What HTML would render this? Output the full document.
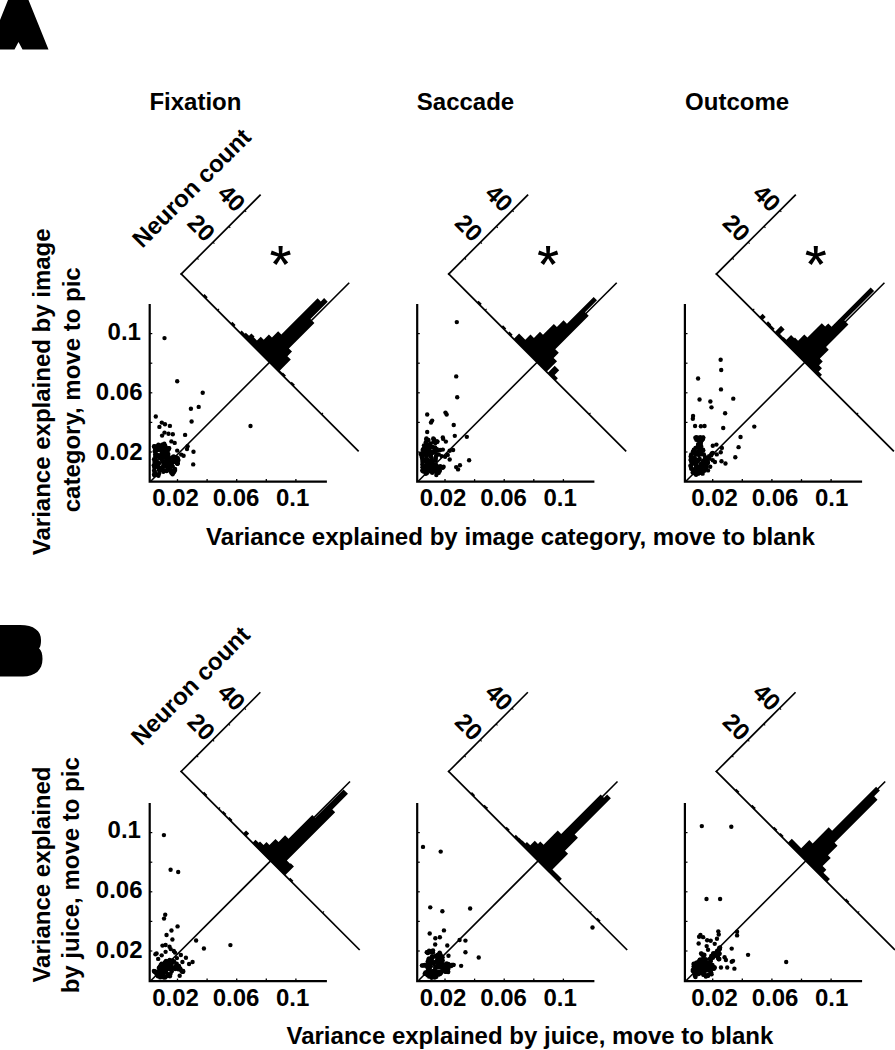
<!DOCTYPE html>
<html><head><meta charset="utf-8"><style>
html,body{margin:0;padding:0;background:#fff;width:895px;height:1050px;overflow:hidden}
svg{display:block}
text{font-family:"Liberation Sans",sans-serif;font-weight:bold;fill:#000}
</style></head><body>
<svg width="895" height="1050" viewBox="0 0 895 1050">
<polygon points="8,0 28.5,0 48.5,49.5 22.5,49.5 18.5,42 14.5,49.5 0,49.5 0,20" fill="#000"/>
<path d="M0,625 L20,625 C34,625 41,631 41,640 C41,645.5 40,647.5 39,648.3 C41.5,650.5 42.5,654 42.5,659 C42.5,670 35,676.5 23,676.5 L0,676.5 Z" fill="#000"/>
<text x="149.40" y="110.20" font-size="24" text-anchor="start" >Fixation</text>
<text x="416.80" y="110.20" font-size="24" text-anchor="start" >Saccade</text>
<text x="685.10" y="110.20" font-size="24" text-anchor="start" >Outcome</text>
<text x="206.00" y="545.00" font-size="24.1" text-anchor="start" >Variance explained by image category, move to blank</text>
<text x="286.50" y="1043.50" font-size="24" text-anchor="start" >Variance explained by juice, move to blank</text>
<text x="50.30" y="555.20" font-size="24" text-anchor="start" transform="rotate(-90 50.3 555.2)" >Variance explained by image</text>
<text x="79.80" y="512.30" font-size="24" text-anchor="start" transform="rotate(-90 79.8 512.3)" >category, move to pic</text>
<text x="50.00" y="982.60" font-size="24" text-anchor="start" transform="rotate(-90 50.0 982.6)" >Variance explained</text>
<text x="79.30" y="993.30" font-size="24" text-anchor="start" transform="rotate(-90 79.3 993.3)" >by juice, move to pic</text>
<path d="M149.70,304.10 L149.70,481.70 L326.90,481.70" fill="none" stroke="#000" stroke-width="2.2"/>
<line x1="177.50" y1="481.70" x2="177.50" y2="479.10" stroke="#000" stroke-width="1.3"/>
<line x1="149.90" y1="452.00" x2="152.30" y2="452.00" stroke="#000" stroke-width="1.2"/>
<line x1="207.10" y1="481.70" x2="207.10" y2="479.10" stroke="#000" stroke-width="1.3"/>
<line x1="149.90" y1="422.40" x2="152.30" y2="422.40" stroke="#000" stroke-width="1.2"/>
<line x1="236.70" y1="481.70" x2="236.70" y2="479.10" stroke="#000" stroke-width="1.3"/>
<line x1="149.90" y1="392.80" x2="152.30" y2="392.80" stroke="#000" stroke-width="1.2"/>
<line x1="266.30" y1="481.70" x2="266.30" y2="479.10" stroke="#000" stroke-width="1.3"/>
<line x1="149.90" y1="363.20" x2="152.30" y2="363.20" stroke="#000" stroke-width="1.2"/>
<line x1="295.90" y1="481.70" x2="295.90" y2="479.10" stroke="#000" stroke-width="1.3"/>
<line x1="149.90" y1="333.60" x2="152.30" y2="333.60" stroke="#000" stroke-width="1.2"/>
<text x="175.50" y="506.00" font-size="24" text-anchor="middle" >0.02</text>
<text x="236.00" y="506.00" font-size="24" text-anchor="middle" >0.06</text>
<text x="292.60" y="506.00" font-size="24" text-anchor="middle" >0.1</text>
<text x="124.25" y="340.00" font-size="24" text-anchor="middle" >0.1</text>
<text x="119.20" y="399.90" font-size="24" text-anchor="middle" >0.06</text>
<text x="119.20" y="459.90" font-size="24" text-anchor="middle" >0.02</text>
<circle cx="163.86" cy="451.50" r="2.2" fill="#000"/>
<circle cx="166.42" cy="456.59" r="2.2" fill="#000"/>
<circle cx="165.44" cy="462.81" r="2.2" fill="#000"/>
<circle cx="177.59" cy="460.06" r="2.2" fill="#000"/>
<circle cx="159.96" cy="468.82" r="2.2" fill="#000"/>
<circle cx="160.75" cy="467.91" r="2.2" fill="#000"/>
<circle cx="165.32" cy="445.98" r="2.2" fill="#000"/>
<circle cx="164.25" cy="463.76" r="2.2" fill="#000"/>
<circle cx="159.36" cy="470.53" r="2.2" fill="#000"/>
<circle cx="157.40" cy="462.25" r="2.2" fill="#000"/>
<circle cx="174.64" cy="458.09" r="2.2" fill="#000"/>
<circle cx="155.09" cy="461.69" r="2.2" fill="#000"/>
<circle cx="171.92" cy="461.55" r="2.2" fill="#000"/>
<circle cx="174.95" cy="461.30" r="2.2" fill="#000"/>
<circle cx="168.57" cy="457.98" r="2.2" fill="#000"/>
<circle cx="157.35" cy="448.98" r="2.2" fill="#000"/>
<circle cx="169.28" cy="465.36" r="2.2" fill="#000"/>
<circle cx="167.24" cy="456.11" r="2.2" fill="#000"/>
<circle cx="177.22" cy="463.03" r="2.2" fill="#000"/>
<circle cx="164.71" cy="465.49" r="2.2" fill="#000"/>
<circle cx="169.28" cy="459.43" r="2.2" fill="#000"/>
<circle cx="158.87" cy="467.97" r="2.2" fill="#000"/>
<circle cx="155.32" cy="450.15" r="2.2" fill="#000"/>
<circle cx="156.14" cy="466.79" r="2.2" fill="#000"/>
<circle cx="177.65" cy="461.09" r="2.2" fill="#000"/>
<circle cx="169.90" cy="463.61" r="2.2" fill="#000"/>
<circle cx="168.24" cy="456.11" r="2.2" fill="#000"/>
<circle cx="155.51" cy="449.81" r="2.2" fill="#000"/>
<circle cx="154.88" cy="451.53" r="2.2" fill="#000"/>
<circle cx="158.24" cy="465.02" r="2.2" fill="#000"/>
<circle cx="161.89" cy="448.76" r="2.2" fill="#000"/>
<circle cx="157.64" cy="454.97" r="2.2" fill="#000"/>
<circle cx="172.62" cy="471.69" r="2.2" fill="#000"/>
<circle cx="159.08" cy="463.27" r="2.2" fill="#000"/>
<circle cx="164.48" cy="448.56" r="2.2" fill="#000"/>
<circle cx="165.30" cy="456.76" r="2.2" fill="#000"/>
<circle cx="168.05" cy="460.20" r="2.2" fill="#000"/>
<circle cx="160.79" cy="454.92" r="2.2" fill="#000"/>
<circle cx="161.94" cy="452.50" r="2.2" fill="#000"/>
<circle cx="169.87" cy="464.12" r="2.2" fill="#000"/>
<circle cx="163.69" cy="465.16" r="2.2" fill="#000"/>
<circle cx="161.44" cy="450.82" r="2.2" fill="#000"/>
<circle cx="176.67" cy="462.28" r="2.2" fill="#000"/>
<circle cx="163.69" cy="456.49" r="2.2" fill="#000"/>
<circle cx="164.56" cy="451.51" r="2.2" fill="#000"/>
<circle cx="156.46" cy="460.86" r="2.2" fill="#000"/>
<circle cx="165.74" cy="462.04" r="2.2" fill="#000"/>
<circle cx="165.95" cy="453.35" r="2.2" fill="#000"/>
<circle cx="165.17" cy="470.67" r="2.2" fill="#000"/>
<circle cx="163.34" cy="466.12" r="2.2" fill="#000"/>
<circle cx="160.92" cy="449.91" r="2.2" fill="#000"/>
<circle cx="175.19" cy="460.89" r="2.2" fill="#000"/>
<circle cx="154.84" cy="472.24" r="2.2" fill="#000"/>
<circle cx="163.19" cy="445.31" r="2.2" fill="#000"/>
<circle cx="159.76" cy="458.26" r="2.2" fill="#000"/>
<circle cx="155.78" cy="460.63" r="2.2" fill="#000"/>
<circle cx="171.20" cy="461.93" r="2.2" fill="#000"/>
<circle cx="170.47" cy="467.30" r="2.2" fill="#000"/>
<circle cx="162.51" cy="461.22" r="2.2" fill="#000"/>
<circle cx="157.87" cy="462.94" r="2.2" fill="#000"/>
<circle cx="161.41" cy="470.00" r="2.2" fill="#000"/>
<circle cx="160.17" cy="456.23" r="2.2" fill="#000"/>
<circle cx="167.47" cy="452.70" r="2.2" fill="#000"/>
<circle cx="165.48" cy="450.83" r="2.2" fill="#000"/>
<circle cx="163.37" cy="453.92" r="2.2" fill="#000"/>
<circle cx="163.70" cy="445.93" r="2.2" fill="#000"/>
<circle cx="177.61" cy="458.99" r="2.2" fill="#000"/>
<circle cx="161.70" cy="459.17" r="2.2" fill="#000"/>
<circle cx="160.52" cy="468.08" r="2.2" fill="#000"/>
<circle cx="166.64" cy="458.11" r="2.2" fill="#000"/>
<circle cx="165.78" cy="462.86" r="2.2" fill="#000"/>
<circle cx="159.37" cy="469.56" r="2.2" fill="#000"/>
<circle cx="164.16" cy="454.97" r="2.2" fill="#000"/>
<circle cx="164.74" cy="466.07" r="2.2" fill="#000"/>
<circle cx="155.37" cy="456.34" r="2.2" fill="#000"/>
<circle cx="156.14" cy="449.37" r="2.2" fill="#000"/>
<circle cx="162.67" cy="461.52" r="2.2" fill="#000"/>
<circle cx="163.45" cy="466.17" r="2.2" fill="#000"/>
<circle cx="176.73" cy="459.74" r="2.2" fill="#000"/>
<circle cx="166.06" cy="459.85" r="2.2" fill="#000"/>
<circle cx="159.26" cy="469.81" r="2.2" fill="#000"/>
<circle cx="172.24" cy="470.60" r="2.2" fill="#000"/>
<circle cx="161.33" cy="448.07" r="2.2" fill="#000"/>
<circle cx="156.21" cy="465.34" r="2.2" fill="#000"/>
<circle cx="177.39" cy="459.98" r="2.2" fill="#000"/>
<circle cx="168.18" cy="466.12" r="2.2" fill="#000"/>
<circle cx="167.10" cy="463.34" r="2.2" fill="#000"/>
<circle cx="175.27" cy="459.28" r="2.2" fill="#000"/>
<circle cx="166.29" cy="451.34" r="2.2" fill="#000"/>
<circle cx="163.51" cy="470.71" r="2.2" fill="#000"/>
<circle cx="155.61" cy="452.48" r="2.2" fill="#000"/>
<circle cx="172.22" cy="465.95" r="2.2" fill="#000"/>
<circle cx="163.60" cy="463.80" r="2.2" fill="#000"/>
<circle cx="165.28" cy="447.75" r="2.2" fill="#000"/>
<circle cx="167.48" cy="454.55" r="2.2" fill="#000"/>
<circle cx="162.82" cy="469.54" r="2.2" fill="#000"/>
<circle cx="169.20" cy="458.76" r="2.2" fill="#000"/>
<circle cx="155.52" cy="466.26" r="2.2" fill="#000"/>
<circle cx="169.54" cy="469.96" r="2.2" fill="#000"/>
<circle cx="155.60" cy="474.25" r="2.2" fill="#000"/>
<circle cx="174.84" cy="460.56" r="2.2" fill="#000"/>
<circle cx="174.04" cy="457.97" r="2.2" fill="#000"/>
<circle cx="173.33" cy="458.35" r="2.2" fill="#000"/>
<circle cx="168.12" cy="450.00" r="2.2" fill="#000"/>
<circle cx="154.65" cy="471.03" r="2.2" fill="#000"/>
<circle cx="160.62" cy="446.42" r="2.2" fill="#000"/>
<circle cx="164.02" cy="462.20" r="2.2" fill="#000"/>
<circle cx="163.73" cy="445.93" r="2.2" fill="#000"/>
<circle cx="157.79" cy="465.96" r="2.2" fill="#000"/>
<circle cx="155.19" cy="454.48" r="2.2" fill="#000"/>
<circle cx="165.35" cy="452.67" r="2.2" fill="#000"/>
<circle cx="158.86" cy="468.78" r="2.2" fill="#000"/>
<circle cx="160.22" cy="457.10" r="2.2" fill="#000"/>
<circle cx="167.53" cy="468.30" r="2.2" fill="#000"/>
<circle cx="156.03" cy="457.19" r="2.2" fill="#000"/>
<circle cx="164.55" cy="455.34" r="2.2" fill="#000"/>
<circle cx="163.53" cy="457.01" r="2.2" fill="#000"/>
<circle cx="154.55" cy="446.56" r="2.2" fill="#000"/>
<circle cx="156.17" cy="446.39" r="2.2" fill="#000"/>
<circle cx="158.10" cy="445.73" r="2.2" fill="#000"/>
<circle cx="162.03" cy="444.77" r="2.2" fill="#000"/>
<circle cx="164.07" cy="444.49" r="2.2" fill="#000"/>
<circle cx="164.84" cy="445.44" r="2.2" fill="#000"/>
<circle cx="168.02" cy="448.10" r="2.2" fill="#000"/>
<circle cx="168.82" cy="448.35" r="2.2" fill="#000"/>
<circle cx="168.98" cy="448.73" r="2.2" fill="#000"/>
<circle cx="168.28" cy="454.11" r="2.2" fill="#000"/>
<circle cx="172.00" cy="457.37" r="2.2" fill="#000"/>
<circle cx="174.51" cy="457.06" r="2.2" fill="#000"/>
<circle cx="176.72" cy="457.51" r="2.2" fill="#000"/>
<circle cx="178.42" cy="460.12" r="2.2" fill="#000"/>
<circle cx="177.68" cy="463.23" r="2.2" fill="#000"/>
<circle cx="177.15" cy="463.33" r="2.2" fill="#000"/>
<circle cx="177.46" cy="463.60" r="2.2" fill="#000"/>
<circle cx="173.18" cy="462.16" r="2.2" fill="#000"/>
<circle cx="172.62" cy="466.44" r="2.2" fill="#000"/>
<circle cx="175.03" cy="469.07" r="2.2" fill="#000"/>
<circle cx="174.81" cy="470.33" r="2.2" fill="#000"/>
<circle cx="173.94" cy="472.34" r="2.2" fill="#000"/>
<circle cx="172.38" cy="473.40" r="2.2" fill="#000"/>
<circle cx="171.12" cy="472.62" r="2.2" fill="#000"/>
<circle cx="166.73" cy="470.98" r="2.2" fill="#000"/>
<circle cx="163.36" cy="471.74" r="2.2" fill="#000"/>
<circle cx="159.10" cy="473.43" r="2.2" fill="#000"/>
<circle cx="156.33" cy="474.85" r="2.2" fill="#000"/>
<circle cx="154.40" cy="475.18" r="2.2" fill="#000"/>
<circle cx="154.06" cy="474.38" r="2.2" fill="#000"/>
<circle cx="154.10" cy="470.46" r="2.2" fill="#000"/>
<circle cx="154.28" cy="467.50" r="2.2" fill="#000"/>
<circle cx="153.77" cy="465.20" r="2.2" fill="#000"/>
<circle cx="154.46" cy="462.06" r="2.2" fill="#000"/>
<circle cx="154.04" cy="459.21" r="2.2" fill="#000"/>
<circle cx="154.91" cy="450.45" r="2.2" fill="#000"/>
<circle cx="154.45" cy="447.23" r="2.2" fill="#000"/>
<circle cx="164.50" cy="338.10" r="2.2" fill="#000"/>
<circle cx="177.20" cy="381.30" r="2.2" fill="#000"/>
<circle cx="202.70" cy="392.80" r="2.2" fill="#000"/>
<circle cx="190.90" cy="408.80" r="2.2" fill="#000"/>
<circle cx="198.70" cy="406.90" r="2.2" fill="#000"/>
<circle cx="155.80" cy="416.50" r="2.2" fill="#000"/>
<circle cx="191.60" cy="421.50" r="2.2" fill="#000"/>
<circle cx="250.50" cy="426.00" r="2.2" fill="#000"/>
<circle cx="161.80" cy="422.60" r="2.2" fill="#000"/>
<circle cx="165.00" cy="424.30" r="2.2" fill="#000"/>
<circle cx="169.90" cy="425.90" r="2.2" fill="#000"/>
<circle cx="159.40" cy="426.90" r="2.2" fill="#000"/>
<circle cx="164.50" cy="432.60" r="2.2" fill="#000"/>
<circle cx="168.50" cy="433.70" r="2.2" fill="#000"/>
<circle cx="172.80" cy="434.20" r="2.2" fill="#000"/>
<circle cx="162.10" cy="435.60" r="2.2" fill="#000"/>
<circle cx="185.10" cy="434.90" r="2.2" fill="#000"/>
<circle cx="171.40" cy="441.40" r="2.2" fill="#000"/>
<circle cx="174.70" cy="442.90" r="2.2" fill="#000"/>
<circle cx="154.10" cy="446.30" r="2.2" fill="#000"/>
<circle cx="158.40" cy="444.80" r="2.2" fill="#000"/>
<circle cx="164.30" cy="443.80" r="2.2" fill="#000"/>
<circle cx="169.20" cy="448.10" r="2.2" fill="#000"/>
<circle cx="158.10" cy="450.00" r="2.2" fill="#000"/>
<circle cx="177.20" cy="450.60" r="2.2" fill="#000"/>
<circle cx="187.60" cy="446.30" r="2.2" fill="#000"/>
<circle cx="187.00" cy="449.10" r="2.2" fill="#000"/>
<circle cx="193.50" cy="451.80" r="2.2" fill="#000"/>
<circle cx="183.60" cy="455.80" r="2.2" fill="#000"/>
<circle cx="181.20" cy="454.60" r="2.2" fill="#000"/>
<circle cx="177.80" cy="458.30" r="2.2" fill="#000"/>
<circle cx="173.50" cy="456.40" r="2.2" fill="#000"/>
<circle cx="177.50" cy="463.80" r="2.2" fill="#000"/>
<circle cx="193.20" cy="464.40" r="2.2" fill="#000"/>
<circle cx="175.00" cy="470.00" r="2.2" fill="#000"/>
<circle cx="172.60" cy="474.30" r="2.2" fill="#000"/>
<circle cx="158.40" cy="475.80" r="2.2" fill="#000"/>
<g transform="translate(269.60 362.35) rotate(45)">
<path d="M-125.80,-0.00 L126,-0.00" stroke="#000" stroke-width="1.7" fill="none"/>
<path d="M-125.00,0.80 L-125.00,-112.3" stroke="#000" stroke-width="1.7" fill="none"/>
<path d="M-125.00,-22.45 L-123.00,-22.45" stroke="#000" stroke-width="1.1"/>
<path d="M-125.00,-44.90 L-123.00,-44.90" stroke="#000" stroke-width="1.1"/>
<path d="M-125.00,-67.35 L-123.00,-67.35" stroke="#000" stroke-width="1.1"/>
<path d="M-125.00,-89.80 L-123.00,-89.80" stroke="#000" stroke-width="1.1"/>
<path d="M-73.50,-0.00 L-73.50,-2.00" stroke="#000" stroke-width="1.1"/>
<path d="M73.50,-0.00 L73.50,-2.00" stroke="#000" stroke-width="1.1"/>
<path d="M-94.30,0 L-94.30,-2.30 L-89.80,-2.30 L-89.80,0 Z M-55.00,0 L-55.00,-2.40 L-50.50,-2.40 L-50.50,0 Z M-42.25,0 L-42.25,-2.75 L-37.80,-2.75 L-37.80,-4.20 L-33.30,-4.20 L-33.30,-7.60 L-28.90,-7.60 L-28.90,-6.50 L-24.40,-6.50 L-24.40,-11.90 L-20.20,-11.90 L-20.20,-19.20 L-15.90,-19.20 L-15.90,-28.00 L-11.40,-28.00 L-11.40,-79.30 L-6.90,-79.30 L-6.90,-84.00 L-1.80,-84.00 L-1.80,-59.60 L3.80,-59.60 L3.80,-23.50 L8.20,-23.50 L8.20,-17.00 L13.00,-17.00 L13.00,-1.60 L16.60,-1.60 L16.60,-2.20 L20.90,-2.20 L20.90,0 Z M29.30,0 L29.30,-2.00 L33.80,-2.00 L33.80,0 Z " fill="#000"/>
<path d="M0,168.5 L0,-112.6" stroke="#000" stroke-width="1.6" fill="none"/>
</g>
<text x="0" y="0" font-size="24" text-anchor="middle" dominant-baseline="central" transform="translate(201.42 227.69) rotate(45)">20</text>
<text x="0" y="0" font-size="24" text-anchor="middle" dominant-baseline="central" transform="translate(231.75 198.06) rotate(45)">40</text>
<text x="0" y="0" font-size="24" text-anchor="middle" dominant-baseline="central" transform="translate(191.31 187.74) rotate(-45)">Neuron count</text>
<path d="M282.10,255.60 L282.70,246.00 L278.50,246.00 L279.10,255.60 Z M281.06,257.03 L290.76,254.51 L289.46,250.51 L280.14,254.17 Z M281.06,254.17 L271.74,250.51 L270.44,254.51 L280.14,257.03 Z M279.39,256.48 L284.78,264.92 L288.18,262.46 L281.81,254.72 Z M279.39,254.72 L273.02,262.46 L276.42,264.92 L281.81,256.48 Z " fill="#000"/>
<circle cx="280.60" cy="255.60" r="2.3" fill="#000"/>
<path d="M417.20,304.10 L417.20,481.70 L594.40,481.70" fill="none" stroke="#000" stroke-width="2.2"/>
<line x1="445.00" y1="481.70" x2="445.00" y2="479.10" stroke="#000" stroke-width="1.3"/>
<line x1="417.40" y1="452.00" x2="419.80" y2="452.00" stroke="#000" stroke-width="1.2"/>
<line x1="474.60" y1="481.70" x2="474.60" y2="479.10" stroke="#000" stroke-width="1.3"/>
<line x1="417.40" y1="422.40" x2="419.80" y2="422.40" stroke="#000" stroke-width="1.2"/>
<line x1="504.20" y1="481.70" x2="504.20" y2="479.10" stroke="#000" stroke-width="1.3"/>
<line x1="417.40" y1="392.80" x2="419.80" y2="392.80" stroke="#000" stroke-width="1.2"/>
<line x1="533.80" y1="481.70" x2="533.80" y2="479.10" stroke="#000" stroke-width="1.3"/>
<line x1="417.40" y1="363.20" x2="419.80" y2="363.20" stroke="#000" stroke-width="1.2"/>
<line x1="563.40" y1="481.70" x2="563.40" y2="479.10" stroke="#000" stroke-width="1.3"/>
<line x1="417.40" y1="333.60" x2="419.80" y2="333.60" stroke="#000" stroke-width="1.2"/>
<text x="443.00" y="506.00" font-size="24" text-anchor="middle" >0.02</text>
<text x="503.50" y="506.00" font-size="24" text-anchor="middle" >0.06</text>
<text x="560.10" y="506.00" font-size="24" text-anchor="middle" >0.1</text>
<circle cx="426.07" cy="459.07" r="2.2" fill="#000"/>
<circle cx="429.43" cy="461.46" r="2.2" fill="#000"/>
<circle cx="426.61" cy="446.67" r="2.2" fill="#000"/>
<circle cx="436.19" cy="472.02" r="2.2" fill="#000"/>
<circle cx="433.34" cy="466.95" r="2.2" fill="#000"/>
<circle cx="438.33" cy="472.45" r="2.2" fill="#000"/>
<circle cx="430.07" cy="469.34" r="2.2" fill="#000"/>
<circle cx="435.98" cy="449.34" r="2.2" fill="#000"/>
<circle cx="432.93" cy="452.73" r="2.2" fill="#000"/>
<circle cx="428.95" cy="460.70" r="2.2" fill="#000"/>
<circle cx="427.27" cy="439.84" r="2.2" fill="#000"/>
<circle cx="430.47" cy="443.33" r="2.2" fill="#000"/>
<circle cx="427.49" cy="468.05" r="2.2" fill="#000"/>
<circle cx="427.90" cy="440.38" r="2.2" fill="#000"/>
<circle cx="425.03" cy="453.62" r="2.2" fill="#000"/>
<circle cx="431.74" cy="458.10" r="2.2" fill="#000"/>
<circle cx="431.00" cy="466.11" r="2.2" fill="#000"/>
<circle cx="426.06" cy="449.34" r="2.2" fill="#000"/>
<circle cx="430.59" cy="460.50" r="2.2" fill="#000"/>
<circle cx="436.00" cy="455.95" r="2.2" fill="#000"/>
<circle cx="438.03" cy="466.82" r="2.2" fill="#000"/>
<circle cx="426.40" cy="455.55" r="2.2" fill="#000"/>
<circle cx="435.11" cy="450.10" r="2.2" fill="#000"/>
<circle cx="429.28" cy="449.81" r="2.2" fill="#000"/>
<circle cx="429.41" cy="461.12" r="2.2" fill="#000"/>
<circle cx="427.66" cy="452.39" r="2.2" fill="#000"/>
<circle cx="434.52" cy="466.71" r="2.2" fill="#000"/>
<circle cx="427.91" cy="446.20" r="2.2" fill="#000"/>
<circle cx="424.78" cy="454.71" r="2.2" fill="#000"/>
<circle cx="428.21" cy="450.65" r="2.2" fill="#000"/>
<circle cx="428.59" cy="463.31" r="2.2" fill="#000"/>
<circle cx="425.74" cy="442.14" r="2.2" fill="#000"/>
<circle cx="424.68" cy="448.44" r="2.2" fill="#000"/>
<circle cx="423.31" cy="448.98" r="2.2" fill="#000"/>
<circle cx="428.83" cy="453.98" r="2.2" fill="#000"/>
<circle cx="430.70" cy="453.68" r="2.2" fill="#000"/>
<circle cx="439.01" cy="470.77" r="2.2" fill="#000"/>
<circle cx="427.37" cy="450.94" r="2.2" fill="#000"/>
<circle cx="435.01" cy="448.78" r="2.2" fill="#000"/>
<circle cx="424.38" cy="449.30" r="2.2" fill="#000"/>
<circle cx="435.61" cy="450.95" r="2.2" fill="#000"/>
<circle cx="426.44" cy="471.77" r="2.2" fill="#000"/>
<circle cx="432.17" cy="468.59" r="2.2" fill="#000"/>
<circle cx="428.97" cy="445.19" r="2.2" fill="#000"/>
<circle cx="433.63" cy="469.97" r="2.2" fill="#000"/>
<circle cx="424.37" cy="468.97" r="2.2" fill="#000"/>
<circle cx="436.03" cy="471.80" r="2.2" fill="#000"/>
<circle cx="426.85" cy="458.39" r="2.2" fill="#000"/>
<circle cx="430.79" cy="456.22" r="2.2" fill="#000"/>
<circle cx="422.20" cy="457.38" r="2.2" fill="#000"/>
<circle cx="428.06" cy="449.88" r="2.2" fill="#000"/>
<circle cx="428.96" cy="463.18" r="2.2" fill="#000"/>
<circle cx="434.96" cy="451.73" r="2.2" fill="#000"/>
<circle cx="424.87" cy="450.45" r="2.2" fill="#000"/>
<circle cx="423.16" cy="459.52" r="2.2" fill="#000"/>
<circle cx="429.52" cy="461.48" r="2.2" fill="#000"/>
<circle cx="431.01" cy="452.20" r="2.2" fill="#000"/>
<circle cx="432.65" cy="465.42" r="2.2" fill="#000"/>
<circle cx="430.72" cy="465.06" r="2.2" fill="#000"/>
<circle cx="431.75" cy="447.10" r="2.2" fill="#000"/>
<circle cx="433.66" cy="465.11" r="2.2" fill="#000"/>
<circle cx="426.69" cy="455.87" r="2.2" fill="#000"/>
<circle cx="423.14" cy="469.83" r="2.2" fill="#000"/>
<circle cx="436.89" cy="472.79" r="2.2" fill="#000"/>
<circle cx="422.63" cy="460.81" r="2.2" fill="#000"/>
<circle cx="423.09" cy="471.06" r="2.2" fill="#000"/>
<circle cx="437.18" cy="470.75" r="2.2" fill="#000"/>
<circle cx="434.38" cy="470.42" r="2.2" fill="#000"/>
<circle cx="426.17" cy="444.49" r="2.2" fill="#000"/>
<circle cx="426.37" cy="461.94" r="2.2" fill="#000"/>
<circle cx="429.37" cy="453.17" r="2.2" fill="#000"/>
<circle cx="428.93" cy="454.03" r="2.2" fill="#000"/>
<circle cx="422.12" cy="457.31" r="2.2" fill="#000"/>
<circle cx="437.62" cy="467.54" r="2.2" fill="#000"/>
<circle cx="432.33" cy="463.02" r="2.2" fill="#000"/>
<circle cx="422.44" cy="467.23" r="2.2" fill="#000"/>
<circle cx="431.30" cy="466.06" r="2.2" fill="#000"/>
<circle cx="424.75" cy="447.99" r="2.2" fill="#000"/>
<circle cx="425.08" cy="460.72" r="2.2" fill="#000"/>
<circle cx="428.03" cy="446.59" r="2.2" fill="#000"/>
<circle cx="427.54" cy="465.51" r="2.2" fill="#000"/>
<circle cx="430.54" cy="471.45" r="2.2" fill="#000"/>
<circle cx="434.91" cy="447.99" r="2.2" fill="#000"/>
<circle cx="432.23" cy="452.61" r="2.2" fill="#000"/>
<circle cx="424.39" cy="451.72" r="2.2" fill="#000"/>
<circle cx="428.21" cy="468.27" r="2.2" fill="#000"/>
<circle cx="432.23" cy="461.26" r="2.2" fill="#000"/>
<circle cx="431.94" cy="470.68" r="2.2" fill="#000"/>
<circle cx="432.27" cy="466.13" r="2.2" fill="#000"/>
<circle cx="431.92" cy="446.48" r="2.2" fill="#000"/>
<circle cx="425.99" cy="466.01" r="2.2" fill="#000"/>
<circle cx="424.84" cy="447.64" r="2.2" fill="#000"/>
<circle cx="424.77" cy="465.49" r="2.2" fill="#000"/>
<circle cx="426.50" cy="471.90" r="2.2" fill="#000"/>
<circle cx="427.99" cy="454.23" r="2.2" fill="#000"/>
<circle cx="422.36" cy="470.66" r="2.2" fill="#000"/>
<circle cx="427.44" cy="451.57" r="2.2" fill="#000"/>
<circle cx="434.80" cy="464.32" r="2.2" fill="#000"/>
<circle cx="431.12" cy="456.74" r="2.2" fill="#000"/>
<circle cx="425.36" cy="460.70" r="2.2" fill="#000"/>
<circle cx="433.88" cy="442.07" r="2.2" fill="#000"/>
<circle cx="427.01" cy="463.92" r="2.2" fill="#000"/>
<circle cx="439.70" cy="467.59" r="2.2" fill="#000"/>
<circle cx="427.54" cy="464.34" r="2.2" fill="#000"/>
<circle cx="436.68" cy="469.54" r="2.2" fill="#000"/>
<circle cx="426.77" cy="467.47" r="2.2" fill="#000"/>
<circle cx="433.67" cy="441.83" r="2.2" fill="#000"/>
<circle cx="432.59" cy="451.39" r="2.2" fill="#000"/>
<circle cx="428.45" cy="466.12" r="2.2" fill="#000"/>
<circle cx="435.23" cy="459.50" r="2.2" fill="#000"/>
<circle cx="427.97" cy="444.36" r="2.2" fill="#000"/>
<circle cx="426.78" cy="452.64" r="2.2" fill="#000"/>
<circle cx="432.87" cy="447.19" r="2.2" fill="#000"/>
<circle cx="426.47" cy="439.26" r="2.2" fill="#000"/>
<circle cx="428.41" cy="439.92" r="2.2" fill="#000"/>
<circle cx="433.63" cy="439.46" r="2.2" fill="#000"/>
<circle cx="434.23" cy="439.43" r="2.2" fill="#000"/>
<circle cx="437.10" cy="441.70" r="2.2" fill="#000"/>
<circle cx="436.80" cy="441.55" r="2.2" fill="#000"/>
<circle cx="435.40" cy="443.10" r="2.2" fill="#000"/>
<circle cx="435.12" cy="447.53" r="2.2" fill="#000"/>
<circle cx="436.92" cy="449.21" r="2.2" fill="#000"/>
<circle cx="437.37" cy="450.62" r="2.2" fill="#000"/>
<circle cx="436.87" cy="454.39" r="2.2" fill="#000"/>
<circle cx="435.88" cy="457.98" r="2.2" fill="#000"/>
<circle cx="435.58" cy="460.43" r="2.2" fill="#000"/>
<circle cx="436.14" cy="464.83" r="2.2" fill="#000"/>
<circle cx="440.28" cy="466.17" r="2.2" fill="#000"/>
<circle cx="442.59" cy="467.69" r="2.2" fill="#000"/>
<circle cx="442.94" cy="467.31" r="2.2" fill="#000"/>
<circle cx="439.91" cy="470.71" r="2.2" fill="#000"/>
<circle cx="438.73" cy="472.83" r="2.2" fill="#000"/>
<circle cx="432.25" cy="472.81" r="2.2" fill="#000"/>
<circle cx="426.80" cy="473.17" r="2.2" fill="#000"/>
<circle cx="425.72" cy="473.73" r="2.2" fill="#000"/>
<circle cx="423.44" cy="471.61" r="2.2" fill="#000"/>
<circle cx="422.62" cy="470.15" r="2.2" fill="#000"/>
<circle cx="422.38" cy="464.43" r="2.2" fill="#000"/>
<circle cx="422.46" cy="462.09" r="2.2" fill="#000"/>
<circle cx="422.25" cy="459.03" r="2.2" fill="#000"/>
<circle cx="421.61" cy="455.95" r="2.2" fill="#000"/>
<circle cx="421.63" cy="453.53" r="2.2" fill="#000"/>
<circle cx="420.65" cy="453.92" r="2.2" fill="#000"/>
<circle cx="422.63" cy="449.96" r="2.2" fill="#000"/>
<circle cx="423.96" cy="445.39" r="2.2" fill="#000"/>
<circle cx="440.20" cy="450.00" r="2.2" fill="#000"/>
<circle cx="438.80" cy="454.50" r="2.2" fill="#000"/>
<circle cx="441.70" cy="456.10" r="2.2" fill="#000"/>
<circle cx="456.80" cy="322.10" r="2.2" fill="#000"/>
<circle cx="456.20" cy="376.40" r="2.2" fill="#000"/>
<circle cx="457.20" cy="397.20" r="2.2" fill="#000"/>
<circle cx="427.20" cy="414.53" r="2.2" fill="#000"/>
<circle cx="445.49" cy="412.62" r="2.2" fill="#000"/>
<circle cx="446.63" cy="414.53" r="2.2" fill="#000"/>
<circle cx="432.15" cy="420.62" r="2.2" fill="#000"/>
<circle cx="431.01" cy="422.53" r="2.2" fill="#000"/>
<circle cx="453.72" cy="424.97" r="2.2" fill="#000"/>
<circle cx="427.20" cy="432.06" r="2.2" fill="#000"/>
<circle cx="454.79" cy="435.87" r="2.2" fill="#000"/>
<circle cx="466.83" cy="436.86" r="2.2" fill="#000"/>
<circle cx="442.82" cy="437.39" r="2.2" fill="#000"/>
<circle cx="443.20" cy="438.92" r="2.2" fill="#000"/>
<circle cx="445.87" cy="441.59" r="2.2" fill="#000"/>
<circle cx="437.48" cy="441.59" r="2.2" fill="#000"/>
<circle cx="426.43" cy="438.54" r="2.2" fill="#000"/>
<circle cx="433.29" cy="438.54" r="2.2" fill="#000"/>
<circle cx="442.82" cy="449.59" r="2.2" fill="#000"/>
<circle cx="453.11" cy="449.97" r="2.2" fill="#000"/>
<circle cx="449.68" cy="450.73" r="2.2" fill="#000"/>
<circle cx="447.77" cy="454.92" r="2.2" fill="#000"/>
<circle cx="445.11" cy="456.83" r="2.2" fill="#000"/>
<circle cx="449.68" cy="459.50" r="2.2" fill="#000"/>
<circle cx="469.12" cy="460.26" r="2.2" fill="#000"/>
<circle cx="459.97" cy="465.21" r="2.2" fill="#000"/>
<circle cx="456.16" cy="467.12" r="2.2" fill="#000"/>
<circle cx="458.06" cy="469.41" r="2.2" fill="#000"/>
<circle cx="443.58" cy="466.74" r="2.2" fill="#000"/>
<circle cx="436.34" cy="475.12" r="2.2" fill="#000"/>
<g transform="translate(537.10 362.35) rotate(45)">
<path d="M-125.80,-0.00 L126,-0.00" stroke="#000" stroke-width="1.7" fill="none"/>
<path d="M-125.00,0.80 L-125.00,-112.3" stroke="#000" stroke-width="1.7" fill="none"/>
<path d="M-125.00,-22.45 L-123.00,-22.45" stroke="#000" stroke-width="1.1"/>
<path d="M-125.00,-44.90 L-123.00,-44.90" stroke="#000" stroke-width="1.1"/>
<path d="M-125.00,-67.35 L-123.00,-67.35" stroke="#000" stroke-width="1.1"/>
<path d="M-125.00,-89.80 L-123.00,-89.80" stroke="#000" stroke-width="1.1"/>
<path d="M-73.50,-0.00 L-73.50,-2.00" stroke="#000" stroke-width="1.1"/>
<path d="M73.50,-0.00 L73.50,-2.00" stroke="#000" stroke-width="1.1"/>
<path d="M-85.00,0 L-85.00,-2.20 L-80.50,-2.20 L-80.50,0 Z M-50.30,0 L-50.30,-2.20 L-45.80,-2.20 L-45.80,0 Z M-41.30,0 L-41.30,-2.20 L-36.80,-2.20 L-36.80,0 Z M-33.10,0 L-33.10,-7.60 L-24.30,-7.60 L-24.30,-15.00 L-19.50,-15.00 L-19.50,-23.60 L-15.30,-23.60 L-15.30,-39.00 L-11.00,-39.00 L-11.00,-48.40 L-6.20,-48.40 L-6.20,-86.20 L-1.50,-86.20 L-1.50,-69.40 L3.60,-69.40 L3.60,-22.10 L8.60,-22.10 L8.60,-14.80 L13.40,-14.80 L13.40,0 Z M14.90,0 L14.90,-10.00 L21.30,-10.00 L21.30,-3.50 L25.90,-3.50 L25.90,0 Z " fill="#000"/>
<path d="M0,168.5 L0,-112.6" stroke="#000" stroke-width="1.6" fill="none"/>
</g>
<text x="0" y="0" font-size="24" text-anchor="middle" dominant-baseline="central" transform="translate(468.92 227.69) rotate(45)">20</text>
<text x="0" y="0" font-size="24" text-anchor="middle" dominant-baseline="central" transform="translate(499.25 198.06) rotate(45)">40</text>
<path d="M549.60,255.60 L550.20,246.00 L546.00,246.00 L546.60,255.60 Z M548.56,257.03 L558.26,254.51 L556.96,250.51 L547.64,254.17 Z M548.56,254.17 L539.24,250.51 L537.94,254.51 L547.64,257.03 Z M546.89,256.48 L552.28,264.92 L555.68,262.46 L549.31,254.72 Z M546.89,254.72 L540.52,262.46 L543.92,264.92 L549.31,256.48 Z " fill="#000"/>
<circle cx="548.10" cy="255.60" r="2.3" fill="#000"/>
<path d="M684.90,304.10 L684.90,481.70 L862.10,481.70" fill="none" stroke="#000" stroke-width="2.2"/>
<line x1="712.70" y1="481.70" x2="712.70" y2="479.10" stroke="#000" stroke-width="1.3"/>
<line x1="685.10" y1="452.00" x2="687.50" y2="452.00" stroke="#000" stroke-width="1.2"/>
<line x1="742.30" y1="481.70" x2="742.30" y2="479.10" stroke="#000" stroke-width="1.3"/>
<line x1="685.10" y1="422.40" x2="687.50" y2="422.40" stroke="#000" stroke-width="1.2"/>
<line x1="771.90" y1="481.70" x2="771.90" y2="479.10" stroke="#000" stroke-width="1.3"/>
<line x1="685.10" y1="392.80" x2="687.50" y2="392.80" stroke="#000" stroke-width="1.2"/>
<line x1="801.50" y1="481.70" x2="801.50" y2="479.10" stroke="#000" stroke-width="1.3"/>
<line x1="685.10" y1="363.20" x2="687.50" y2="363.20" stroke="#000" stroke-width="1.2"/>
<line x1="831.10" y1="481.70" x2="831.10" y2="479.10" stroke="#000" stroke-width="1.3"/>
<line x1="685.10" y1="333.60" x2="687.50" y2="333.60" stroke="#000" stroke-width="1.2"/>
<text x="714.50" y="506.00" font-size="24" text-anchor="middle" >0.02</text>
<text x="775.00" y="506.00" font-size="24" text-anchor="middle" >0.06</text>
<text x="831.60" y="506.00" font-size="24" text-anchor="middle" >0.1</text>
<circle cx="701.14" cy="445.91" r="2.2" fill="#000"/>
<circle cx="700.76" cy="466.10" r="2.2" fill="#000"/>
<circle cx="698.29" cy="466.52" r="2.2" fill="#000"/>
<circle cx="695.74" cy="467.81" r="2.2" fill="#000"/>
<circle cx="702.49" cy="462.95" r="2.2" fill="#000"/>
<circle cx="693.71" cy="457.75" r="2.2" fill="#000"/>
<circle cx="691.18" cy="467.74" r="2.2" fill="#000"/>
<circle cx="693.92" cy="461.87" r="2.2" fill="#000"/>
<circle cx="697.97" cy="473.11" r="2.2" fill="#000"/>
<circle cx="705.19" cy="463.59" r="2.2" fill="#000"/>
<circle cx="691.78" cy="462.17" r="2.2" fill="#000"/>
<circle cx="701.11" cy="440.91" r="2.2" fill="#000"/>
<circle cx="694.14" cy="470.39" r="2.2" fill="#000"/>
<circle cx="697.27" cy="471.96" r="2.2" fill="#000"/>
<circle cx="698.40" cy="451.08" r="2.2" fill="#000"/>
<circle cx="700.18" cy="469.00" r="2.2" fill="#000"/>
<circle cx="709.04" cy="456.25" r="2.2" fill="#000"/>
<circle cx="700.78" cy="463.91" r="2.2" fill="#000"/>
<circle cx="699.21" cy="438.79" r="2.2" fill="#000"/>
<circle cx="701.20" cy="467.08" r="2.2" fill="#000"/>
<circle cx="691.95" cy="459.20" r="2.2" fill="#000"/>
<circle cx="697.99" cy="445.70" r="2.2" fill="#000"/>
<circle cx="700.29" cy="472.90" r="2.2" fill="#000"/>
<circle cx="695.29" cy="451.95" r="2.2" fill="#000"/>
<circle cx="695.62" cy="454.55" r="2.2" fill="#000"/>
<circle cx="700.97" cy="441.07" r="2.2" fill="#000"/>
<circle cx="698.40" cy="447.70" r="2.2" fill="#000"/>
<circle cx="698.93" cy="455.09" r="2.2" fill="#000"/>
<circle cx="700.23" cy="437.63" r="2.2" fill="#000"/>
<circle cx="691.66" cy="464.43" r="2.2" fill="#000"/>
<circle cx="698.01" cy="473.34" r="2.2" fill="#000"/>
<circle cx="701.31" cy="454.31" r="2.2" fill="#000"/>
<circle cx="692.49" cy="460.66" r="2.2" fill="#000"/>
<circle cx="691.49" cy="461.47" r="2.2" fill="#000"/>
<circle cx="700.57" cy="471.77" r="2.2" fill="#000"/>
<circle cx="704.80" cy="463.73" r="2.2" fill="#000"/>
<circle cx="692.04" cy="469.05" r="2.2" fill="#000"/>
<circle cx="690.93" cy="460.36" r="2.2" fill="#000"/>
<circle cx="695.84" cy="464.18" r="2.2" fill="#000"/>
<circle cx="705.04" cy="457.01" r="2.2" fill="#000"/>
<circle cx="697.54" cy="438.46" r="2.2" fill="#000"/>
<circle cx="702.72" cy="454.12" r="2.2" fill="#000"/>
<circle cx="701.38" cy="438.36" r="2.2" fill="#000"/>
<circle cx="690.69" cy="456.39" r="2.2" fill="#000"/>
<circle cx="692.65" cy="458.35" r="2.2" fill="#000"/>
<circle cx="698.68" cy="444.35" r="2.2" fill="#000"/>
<circle cx="694.44" cy="458.17" r="2.2" fill="#000"/>
<circle cx="694.92" cy="458.51" r="2.2" fill="#000"/>
<circle cx="708.80" cy="458.37" r="2.2" fill="#000"/>
<circle cx="698.50" cy="453.18" r="2.2" fill="#000"/>
<circle cx="702.82" cy="462.14" r="2.2" fill="#000"/>
<circle cx="707.02" cy="461.46" r="2.2" fill="#000"/>
<circle cx="692.98" cy="460.66" r="2.2" fill="#000"/>
<circle cx="698.59" cy="437.79" r="2.2" fill="#000"/>
<circle cx="691.72" cy="464.13" r="2.2" fill="#000"/>
<circle cx="696.27" cy="454.40" r="2.2" fill="#000"/>
<circle cx="693.10" cy="462.11" r="2.2" fill="#000"/>
<circle cx="705.99" cy="464.87" r="2.2" fill="#000"/>
<circle cx="700.08" cy="443.50" r="2.2" fill="#000"/>
<circle cx="706.19" cy="466.80" r="2.2" fill="#000"/>
<circle cx="691.19" cy="459.44" r="2.2" fill="#000"/>
<circle cx="698.57" cy="459.38" r="2.2" fill="#000"/>
<circle cx="703.13" cy="460.71" r="2.2" fill="#000"/>
<circle cx="701.02" cy="446.26" r="2.2" fill="#000"/>
<circle cx="693.70" cy="453.48" r="2.2" fill="#000"/>
<circle cx="709.36" cy="458.66" r="2.2" fill="#000"/>
<circle cx="701.86" cy="440.17" r="2.2" fill="#000"/>
<circle cx="703.87" cy="454.51" r="2.2" fill="#000"/>
<circle cx="700.77" cy="469.43" r="2.2" fill="#000"/>
<circle cx="698.24" cy="469.96" r="2.2" fill="#000"/>
<circle cx="696.56" cy="438.66" r="2.2" fill="#000"/>
<circle cx="704.63" cy="466.44" r="2.2" fill="#000"/>
<circle cx="698.48" cy="440.41" r="2.2" fill="#000"/>
<circle cx="702.03" cy="466.78" r="2.2" fill="#000"/>
<circle cx="701.21" cy="450.07" r="2.2" fill="#000"/>
<circle cx="703.85" cy="470.45" r="2.2" fill="#000"/>
<circle cx="705.32" cy="467.64" r="2.2" fill="#000"/>
<circle cx="691.59" cy="459.75" r="2.2" fill="#000"/>
<circle cx="701.65" cy="439.92" r="2.2" fill="#000"/>
<circle cx="706.29" cy="466.88" r="2.2" fill="#000"/>
<circle cx="691.62" cy="460.20" r="2.2" fill="#000"/>
<circle cx="700.39" cy="467.88" r="2.2" fill="#000"/>
<circle cx="703.35" cy="465.06" r="2.2" fill="#000"/>
<circle cx="700.39" cy="437.80" r="2.2" fill="#000"/>
<circle cx="695.79" cy="464.54" r="2.2" fill="#000"/>
<circle cx="698.57" cy="460.59" r="2.2" fill="#000"/>
<circle cx="698.29" cy="469.06" r="2.2" fill="#000"/>
<circle cx="692.55" cy="462.35" r="2.2" fill="#000"/>
<circle cx="700.73" cy="451.70" r="2.2" fill="#000"/>
<circle cx="699.94" cy="445.66" r="2.2" fill="#000"/>
<circle cx="702.58" cy="449.33" r="2.2" fill="#000"/>
<circle cx="702.66" cy="471.14" r="2.2" fill="#000"/>
<circle cx="707.79" cy="462.12" r="2.2" fill="#000"/>
<circle cx="711.15" cy="455.38" r="2.2" fill="#000"/>
<circle cx="707.30" cy="463.78" r="2.2" fill="#000"/>
<circle cx="707.32" cy="459.40" r="2.2" fill="#000"/>
<circle cx="693.47" cy="472.77" r="2.2" fill="#000"/>
<circle cx="694.42" cy="450.89" r="2.2" fill="#000"/>
<circle cx="702.71" cy="449.87" r="2.2" fill="#000"/>
<circle cx="699.74" cy="459.00" r="2.2" fill="#000"/>
<circle cx="704.54" cy="459.99" r="2.2" fill="#000"/>
<circle cx="695.65" cy="461.17" r="2.2" fill="#000"/>
<circle cx="705.18" cy="469.23" r="2.2" fill="#000"/>
<circle cx="699.64" cy="450.34" r="2.2" fill="#000"/>
<circle cx="695.87" cy="461.64" r="2.2" fill="#000"/>
<circle cx="696.90" cy="462.19" r="2.2" fill="#000"/>
<circle cx="701.71" cy="438.48" r="2.2" fill="#000"/>
<circle cx="695.35" cy="437.79" r="2.2" fill="#000"/>
<circle cx="696.42" cy="437.17" r="2.2" fill="#000"/>
<circle cx="700.42" cy="437.35" r="2.2" fill="#000"/>
<circle cx="703.28" cy="437.75" r="2.2" fill="#000"/>
<circle cx="703.11" cy="437.52" r="2.2" fill="#000"/>
<circle cx="702.97" cy="439.05" r="2.2" fill="#000"/>
<circle cx="700.94" cy="442.72" r="2.2" fill="#000"/>
<circle cx="703.28" cy="450.14" r="2.2" fill="#000"/>
<circle cx="712.76" cy="453.07" r="2.2" fill="#000"/>
<circle cx="711.75" cy="453.42" r="2.2" fill="#000"/>
<circle cx="711.35" cy="454.64" r="2.2" fill="#000"/>
<circle cx="709.27" cy="458.42" r="2.2" fill="#000"/>
<circle cx="707.96" cy="462.83" r="2.2" fill="#000"/>
<circle cx="706.47" cy="467.00" r="2.2" fill="#000"/>
<circle cx="704.36" cy="470.63" r="2.2" fill="#000"/>
<circle cx="701.83" cy="473.03" r="2.2" fill="#000"/>
<circle cx="698.26" cy="473.67" r="2.2" fill="#000"/>
<circle cx="694.91" cy="473.57" r="2.2" fill="#000"/>
<circle cx="692.66" cy="472.40" r="2.2" fill="#000"/>
<circle cx="691.24" cy="468.63" r="2.2" fill="#000"/>
<circle cx="690.38" cy="465.78" r="2.2" fill="#000"/>
<circle cx="690.68" cy="459.66" r="2.2" fill="#000"/>
<circle cx="691.16" cy="454.55" r="2.2" fill="#000"/>
<circle cx="692.87" cy="451.75" r="2.2" fill="#000"/>
<circle cx="693.84" cy="449.71" r="2.2" fill="#000"/>
<circle cx="695.53" cy="447.96" r="2.2" fill="#000"/>
<circle cx="698.17" cy="444.11" r="2.2" fill="#000"/>
<circle cx="696.35" cy="439.80" r="2.2" fill="#000"/>
<circle cx="720.65" cy="359.78" r="2.2" fill="#000"/>
<circle cx="721.21" cy="369.94" r="2.2" fill="#000"/>
<circle cx="698.08" cy="378.55" r="2.2" fill="#000"/>
<circle cx="720.99" cy="389.39" r="2.2" fill="#000"/>
<circle cx="699.54" cy="399.44" r="2.2" fill="#000"/>
<circle cx="733.28" cy="398.66" r="2.2" fill="#000"/>
<circle cx="710.37" cy="401.45" r="2.2" fill="#000"/>
<circle cx="711.49" cy="407.37" r="2.2" fill="#000"/>
<circle cx="725.12" cy="413.18" r="2.2" fill="#000"/>
<circle cx="693.06" cy="415.98" r="2.2" fill="#000"/>
<circle cx="692.83" cy="418.77" r="2.2" fill="#000"/>
<circle cx="695.07" cy="426.03" r="2.2" fill="#000"/>
<circle cx="700.88" cy="426.26" r="2.2" fill="#000"/>
<circle cx="704.56" cy="426.03" r="2.2" fill="#000"/>
<circle cx="723.22" cy="427.93" r="2.2" fill="#000"/>
<circle cx="754.28" cy="426.59" r="2.2" fill="#000"/>
<circle cx="740.54" cy="436.98" r="2.2" fill="#000"/>
<circle cx="738.56" cy="447.15" r="2.2" fill="#000"/>
<circle cx="735.29" cy="457.32" r="2.2" fill="#000"/>
<circle cx="725.48" cy="463.49" r="2.2" fill="#000"/>
<circle cx="721.49" cy="461.31" r="2.2" fill="#000"/>
<circle cx="716.41" cy="444.61" r="2.2" fill="#000"/>
<circle cx="712.77" cy="445.70" r="2.2" fill="#000"/>
<circle cx="721.85" cy="447.88" r="2.2" fill="#000"/>
<circle cx="720.76" cy="452.23" r="2.2" fill="#000"/>
<circle cx="716.77" cy="454.41" r="2.2" fill="#000"/>
<circle cx="714.95" cy="462.04" r="2.2" fill="#000"/>
<circle cx="712.77" cy="460.22" r="2.2" fill="#000"/>
<circle cx="710.23" cy="466.76" r="2.2" fill="#000"/>
<circle cx="708.05" cy="470.39" r="2.2" fill="#000"/>
<circle cx="702.61" cy="473.66" r="2.2" fill="#000"/>
<circle cx="696.07" cy="474.75" r="2.2" fill="#000"/>
<g transform="translate(804.80 362.35) rotate(45)">
<path d="M-125.80,-0.00 L126,-0.00" stroke="#000" stroke-width="1.7" fill="none"/>
<path d="M-125.00,0.80 L-125.00,-112.3" stroke="#000" stroke-width="1.7" fill="none"/>
<path d="M-125.00,-22.45 L-123.00,-22.45" stroke="#000" stroke-width="1.1"/>
<path d="M-125.00,-44.90 L-123.00,-44.90" stroke="#000" stroke-width="1.1"/>
<path d="M-125.00,-67.35 L-123.00,-67.35" stroke="#000" stroke-width="1.1"/>
<path d="M-125.00,-89.80 L-123.00,-89.80" stroke="#000" stroke-width="1.1"/>
<path d="M-73.50,-0.00 L-73.50,-2.00" stroke="#000" stroke-width="1.1"/>
<path d="M73.50,-0.00 L73.50,-2.00" stroke="#000" stroke-width="1.1"/>
<path d="M-64.20,0 L-64.20,-4.50 L-59.80,-4.50 L-59.80,0 Z M-55.00,0 L-55.00,-3.00 L-50.50,-3.00 L-50.50,-2.40 L-45.00,-2.40 L-45.00,0 Z M-42.60,0 L-42.60,-9.00 L-37.50,-9.00 L-37.50,-2.50 L-33.00,-2.50 L-33.00,-3.00 L-29.00,-3.00 L-29.00,-9.60 L-24.50,-9.60 L-24.50,-10.60 L-20.10,-10.60 L-20.10,-19.40 L-15.70,-19.40 L-15.70,-39.70 L-10.90,-39.70 L-10.90,-44.10 L-6.30,-44.10 L-6.30,-99.50 L-1.50,-99.50 L-1.50,-57.60 L4.10,-57.60 L4.10,-25.90 L8.00,-25.90 L8.00,-13.30 L12.10,-13.30 L12.10,-8.00 L16.30,-8.00 L16.30,-3.30 L21.00,-3.30 L21.00,0 Z " fill="#000"/>
<path d="M0,168.5 L0,-112.6" stroke="#000" stroke-width="1.6" fill="none"/>
</g>
<text x="0" y="0" font-size="24" text-anchor="middle" dominant-baseline="central" transform="translate(736.62 227.69) rotate(45)">20</text>
<text x="0" y="0" font-size="24" text-anchor="middle" dominant-baseline="central" transform="translate(766.95 198.06) rotate(45)">40</text>
<path d="M817.30,255.60 L817.90,246.00 L813.70,246.00 L814.30,255.60 Z M816.26,257.03 L825.96,254.51 L824.66,250.51 L815.34,254.17 Z M816.26,254.17 L806.94,250.51 L805.64,254.51 L815.34,257.03 Z M814.59,256.48 L819.98,264.92 L823.38,262.46 L817.01,254.72 Z M814.59,254.72 L808.22,262.46 L811.62,264.92 L817.01,256.48 Z " fill="#000"/>
<circle cx="815.80" cy="255.60" r="2.3" fill="#000"/>
<path d="M149.70,803.10 L149.70,981.20 L326.90,981.20" fill="none" stroke="#000" stroke-width="2.2"/>
<line x1="177.50" y1="981.20" x2="177.50" y2="978.60" stroke="#000" stroke-width="1.3"/>
<line x1="149.90" y1="951.00" x2="152.30" y2="951.00" stroke="#000" stroke-width="1.2"/>
<line x1="207.10" y1="981.20" x2="207.10" y2="978.60" stroke="#000" stroke-width="1.3"/>
<line x1="149.90" y1="921.40" x2="152.30" y2="921.40" stroke="#000" stroke-width="1.2"/>
<line x1="236.70" y1="981.20" x2="236.70" y2="978.60" stroke="#000" stroke-width="1.3"/>
<line x1="149.90" y1="891.80" x2="152.30" y2="891.80" stroke="#000" stroke-width="1.2"/>
<line x1="266.30" y1="981.20" x2="266.30" y2="978.60" stroke="#000" stroke-width="1.3"/>
<line x1="149.90" y1="862.20" x2="152.30" y2="862.20" stroke="#000" stroke-width="1.2"/>
<line x1="295.90" y1="981.20" x2="295.90" y2="978.60" stroke="#000" stroke-width="1.3"/>
<line x1="149.90" y1="832.60" x2="152.30" y2="832.60" stroke="#000" stroke-width="1.2"/>
<text x="175.50" y="1006.40" font-size="24" text-anchor="middle" >0.02</text>
<text x="236.00" y="1006.40" font-size="24" text-anchor="middle" >0.06</text>
<text x="292.60" y="1006.40" font-size="24" text-anchor="middle" >0.1</text>
<text x="124.25" y="837.70" font-size="24" text-anchor="middle" >0.1</text>
<text x="119.20" y="897.60" font-size="24" text-anchor="middle" >0.06</text>
<text x="119.20" y="957.60" font-size="24" text-anchor="middle" >0.02</text>
<circle cx="170.86" cy="967.31" r="2.2" fill="#000"/>
<circle cx="171.07" cy="962.63" r="2.2" fill="#000"/>
<circle cx="173.50" cy="961.67" r="2.2" fill="#000"/>
<circle cx="169.22" cy="965.19" r="2.2" fill="#000"/>
<circle cx="164.75" cy="964.26" r="2.2" fill="#000"/>
<circle cx="174.19" cy="967.90" r="2.2" fill="#000"/>
<circle cx="156.75" cy="974.43" r="2.2" fill="#000"/>
<circle cx="164.25" cy="977.17" r="2.2" fill="#000"/>
<circle cx="162.59" cy="969.83" r="2.2" fill="#000"/>
<circle cx="168.45" cy="975.48" r="2.2" fill="#000"/>
<circle cx="170.72" cy="966.16" r="2.2" fill="#000"/>
<circle cx="171.82" cy="960.67" r="2.2" fill="#000"/>
<circle cx="157.82" cy="975.26" r="2.2" fill="#000"/>
<circle cx="165.79" cy="963.46" r="2.2" fill="#000"/>
<circle cx="161.31" cy="971.27" r="2.2" fill="#000"/>
<circle cx="167.13" cy="961.77" r="2.2" fill="#000"/>
<circle cx="177.49" cy="968.39" r="2.2" fill="#000"/>
<circle cx="163.65" cy="967.43" r="2.2" fill="#000"/>
<circle cx="163.14" cy="965.01" r="2.2" fill="#000"/>
<circle cx="171.22" cy="966.51" r="2.2" fill="#000"/>
<circle cx="160.24" cy="969.34" r="2.2" fill="#000"/>
<circle cx="168.22" cy="967.99" r="2.2" fill="#000"/>
<circle cx="165.38" cy="967.13" r="2.2" fill="#000"/>
<circle cx="171.29" cy="969.62" r="2.2" fill="#000"/>
<circle cx="168.23" cy="961.78" r="2.2" fill="#000"/>
<circle cx="167.23" cy="967.47" r="2.2" fill="#000"/>
<circle cx="168.59" cy="967.69" r="2.2" fill="#000"/>
<circle cx="174.93" cy="967.19" r="2.2" fill="#000"/>
<circle cx="179.16" cy="968.36" r="2.2" fill="#000"/>
<circle cx="166.48" cy="976.34" r="2.2" fill="#000"/>
<circle cx="167.39" cy="973.92" r="2.2" fill="#000"/>
<circle cx="166.10" cy="972.25" r="2.2" fill="#000"/>
<circle cx="170.35" cy="963.89" r="2.2" fill="#000"/>
<circle cx="164.19" cy="971.48" r="2.2" fill="#000"/>
<circle cx="172.65" cy="962.70" r="2.2" fill="#000"/>
<circle cx="160.67" cy="967.90" r="2.2" fill="#000"/>
<circle cx="161.56" cy="972.90" r="2.2" fill="#000"/>
<circle cx="168.77" cy="968.96" r="2.2" fill="#000"/>
<circle cx="160.95" cy="967.58" r="2.2" fill="#000"/>
<circle cx="163.46" cy="973.56" r="2.2" fill="#000"/>
<circle cx="168.00" cy="967.69" r="2.2" fill="#000"/>
<circle cx="167.82" cy="968.38" r="2.2" fill="#000"/>
<circle cx="178.25" cy="966.81" r="2.2" fill="#000"/>
<circle cx="163.01" cy="965.07" r="2.2" fill="#000"/>
<circle cx="159.54" cy="973.95" r="2.2" fill="#000"/>
<circle cx="170.87" cy="967.53" r="2.2" fill="#000"/>
<circle cx="169.29" cy="975.31" r="2.2" fill="#000"/>
<circle cx="165.25" cy="970.93" r="2.2" fill="#000"/>
<circle cx="163.71" cy="966.65" r="2.2" fill="#000"/>
<circle cx="171.07" cy="965.61" r="2.2" fill="#000"/>
<circle cx="158.10" cy="975.61" r="2.2" fill="#000"/>
<circle cx="170.45" cy="967.93" r="2.2" fill="#000"/>
<circle cx="158.50" cy="971.62" r="2.2" fill="#000"/>
<circle cx="178.01" cy="965.87" r="2.2" fill="#000"/>
<circle cx="158.16" cy="971.67" r="2.2" fill="#000"/>
<circle cx="171.71" cy="967.31" r="2.2" fill="#000"/>
<circle cx="176.68" cy="968.14" r="2.2" fill="#000"/>
<circle cx="171.18" cy="967.14" r="2.2" fill="#000"/>
<circle cx="162.47" cy="964.39" r="2.2" fill="#000"/>
<circle cx="163.59" cy="977.36" r="2.2" fill="#000"/>
<circle cx="157.56" cy="972.52" r="2.2" fill="#000"/>
<circle cx="172.97" cy="968.26" r="2.2" fill="#000"/>
<circle cx="171.04" cy="966.69" r="2.2" fill="#000"/>
<circle cx="175.86" cy="965.83" r="2.2" fill="#000"/>
<circle cx="161.78" cy="975.54" r="2.2" fill="#000"/>
<circle cx="165.94" cy="969.88" r="2.2" fill="#000"/>
<circle cx="167.24" cy="965.36" r="2.2" fill="#000"/>
<circle cx="160.72" cy="964.94" r="2.2" fill="#000"/>
<circle cx="161.59" cy="963.78" r="2.2" fill="#000"/>
<circle cx="164.77" cy="962.41" r="2.2" fill="#000"/>
<circle cx="166.95" cy="961.16" r="2.2" fill="#000"/>
<circle cx="169.62" cy="960.07" r="2.2" fill="#000"/>
<circle cx="172.52" cy="960.62" r="2.2" fill="#000"/>
<circle cx="174.17" cy="961.51" r="2.2" fill="#000"/>
<circle cx="176.75" cy="963.71" r="2.2" fill="#000"/>
<circle cx="178.97" cy="965.99" r="2.2" fill="#000"/>
<circle cx="180.29" cy="968.37" r="2.2" fill="#000"/>
<circle cx="182.13" cy="971.69" r="2.2" fill="#000"/>
<circle cx="182.62" cy="971.17" r="2.2" fill="#000"/>
<circle cx="183.17" cy="971.05" r="2.2" fill="#000"/>
<circle cx="181.12" cy="970.47" r="2.2" fill="#000"/>
<circle cx="178.26" cy="969.21" r="2.2" fill="#000"/>
<circle cx="175.13" cy="969.08" r="2.2" fill="#000"/>
<circle cx="171.73" cy="971.15" r="2.2" fill="#000"/>
<circle cx="170.60" cy="973.87" r="2.2" fill="#000"/>
<circle cx="169.90" cy="976.18" r="2.2" fill="#000"/>
<circle cx="165.15" cy="977.55" r="2.2" fill="#000"/>
<circle cx="163.10" cy="977.14" r="2.2" fill="#000"/>
<circle cx="160.21" cy="977.42" r="2.2" fill="#000"/>
<circle cx="157.94" cy="976.19" r="2.2" fill="#000"/>
<circle cx="156.40" cy="973.58" r="2.2" fill="#000"/>
<circle cx="154.98" cy="971.22" r="2.2" fill="#000"/>
<circle cx="154.61" cy="971.91" r="2.2" fill="#000"/>
<circle cx="158.83" cy="967.93" r="2.2" fill="#000"/>
<circle cx="159.69" cy="966.58" r="2.2" fill="#000"/>
<circle cx="230.40" cy="945.10" r="2.2" fill="#000"/>
<circle cx="163.90" cy="835.10" r="2.2" fill="#000"/>
<circle cx="170.60" cy="869.70" r="2.2" fill="#000"/>
<circle cx="178.20" cy="872.00" r="2.2" fill="#000"/>
<circle cx="165.21" cy="914.69" r="2.2" fill="#000"/>
<circle cx="164.03" cy="918.60" r="2.2" fill="#000"/>
<circle cx="177.56" cy="926.42" r="2.2" fill="#000"/>
<circle cx="171.46" cy="930.49" r="2.2" fill="#000"/>
<circle cx="166.54" cy="935.03" r="2.2" fill="#000"/>
<circle cx="172.40" cy="939.56" r="2.2" fill="#000"/>
<circle cx="196.10" cy="940.50" r="2.2" fill="#000"/>
<circle cx="203.92" cy="948.48" r="2.2" fill="#000"/>
<circle cx="162.47" cy="945.59" r="2.2" fill="#000"/>
<circle cx="165.60" cy="945.04" r="2.2" fill="#000"/>
<circle cx="169.51" cy="946.76" r="2.2" fill="#000"/>
<circle cx="170.68" cy="949.11" r="2.2" fill="#000"/>
<circle cx="165.60" cy="951.84" r="2.2" fill="#000"/>
<circle cx="156.60" cy="953.41" r="2.2" fill="#000"/>
<circle cx="155.43" cy="954.19" r="2.2" fill="#000"/>
<circle cx="173.81" cy="951.06" r="2.2" fill="#000"/>
<circle cx="174.98" cy="952.62" r="2.2" fill="#000"/>
<circle cx="180.85" cy="954.97" r="2.2" fill="#000"/>
<circle cx="185.93" cy="957.71" r="2.2" fill="#000"/>
<circle cx="161.69" cy="955.36" r="2.2" fill="#000"/>
<circle cx="158.17" cy="958.88" r="2.2" fill="#000"/>
<circle cx="182.41" cy="962.01" r="2.2" fill="#000"/>
<circle cx="192.58" cy="962.01" r="2.2" fill="#000"/>
<circle cx="189.06" cy="963.97" r="2.2" fill="#000"/>
<circle cx="176.94" cy="958.10" r="2.2" fill="#000"/>
<circle cx="165.99" cy="960.84" r="2.2" fill="#000"/>
<circle cx="183.19" cy="971.79" r="2.2" fill="#000"/>
<circle cx="179.68" cy="975.70" r="2.2" fill="#000"/>
<circle cx="153.87" cy="971.00" r="2.2" fill="#000"/>
<g transform="translate(270.40 861.10) rotate(45)">
<path d="M-127.30,-0.30 L126,-0.30" stroke="#000" stroke-width="1.7" fill="none"/>
<path d="M-126.50,0.50 L-126.50,-112.3" stroke="#000" stroke-width="1.7" fill="none"/>
<path d="M-126.50,-22.45 L-124.50,-22.45" stroke="#000" stroke-width="1.1"/>
<path d="M-126.50,-44.90 L-124.50,-44.90" stroke="#000" stroke-width="1.1"/>
<path d="M-126.50,-67.35 L-124.50,-67.35" stroke="#000" stroke-width="1.1"/>
<path d="M-126.50,-89.80 L-124.50,-89.80" stroke="#000" stroke-width="1.1"/>
<path d="M-73.50,-0.30 L-73.50,-2.30" stroke="#000" stroke-width="1.1"/>
<path d="M73.50,-0.30 L73.50,-2.30" stroke="#000" stroke-width="1.1"/>
<path d="M-95.80,0 L-95.80,-2.20 L-91.40,-2.20 L-91.40,0 Z M-68.80,0 L-68.80,-2.20 L-64.40,-2.20 L-64.40,0 Z M-60.20,0 L-60.20,-2.20 L-55.80,-2.20 L-55.80,0 Z M-38.90,0 L-38.90,-4.50 L-34.50,-4.50 L-34.50,0 Z M-25.60,0 L-25.60,-4.60 L-21.20,-4.60 L-21.20,-6.50 L-16.20,-6.50 L-16.20,-10.70 L-12.10,-10.70 L-12.10,-19.30 L-7.80,-19.30 L-7.80,-28.60 L-3.00,-28.60 L-3.00,-62.20 L1.00,-62.20 L1.00,-102.40 L7.30,-102.40 L7.30,-80.30 L11.30,-80.30 L11.30,-12.00 L15.90,-12.00 L15.90,-12.80 L20.50,-12.80 L20.50,0 Z M25.80,0 L25.80,-2.30 L30.20,-2.30 L30.20,0 Z " fill="#000"/>
<path d="M0,168.5 L0,-112.6" stroke="#000" stroke-width="1.6" fill="none"/>
</g>
<text x="0" y="0" font-size="24" text-anchor="middle" dominant-baseline="central" transform="translate(201.42 726.69) rotate(45)">20</text>
<text x="0" y="0" font-size="24" text-anchor="middle" dominant-baseline="central" transform="translate(231.75 697.06) rotate(45)">40</text>
<text x="0" y="0" font-size="24" text-anchor="middle" dominant-baseline="central" transform="translate(190.17 685.47) rotate(-45)">Neuron count</text>
<path d="M417.20,803.10 L417.20,981.20 L594.40,981.20" fill="none" stroke="#000" stroke-width="2.2"/>
<line x1="445.00" y1="981.20" x2="445.00" y2="978.60" stroke="#000" stroke-width="1.3"/>
<line x1="417.40" y1="951.00" x2="419.80" y2="951.00" stroke="#000" stroke-width="1.2"/>
<line x1="474.60" y1="981.20" x2="474.60" y2="978.60" stroke="#000" stroke-width="1.3"/>
<line x1="417.40" y1="921.40" x2="419.80" y2="921.40" stroke="#000" stroke-width="1.2"/>
<line x1="504.20" y1="981.20" x2="504.20" y2="978.60" stroke="#000" stroke-width="1.3"/>
<line x1="417.40" y1="891.80" x2="419.80" y2="891.80" stroke="#000" stroke-width="1.2"/>
<line x1="533.80" y1="981.20" x2="533.80" y2="978.60" stroke="#000" stroke-width="1.3"/>
<line x1="417.40" y1="862.20" x2="419.80" y2="862.20" stroke="#000" stroke-width="1.2"/>
<line x1="563.40" y1="981.20" x2="563.40" y2="978.60" stroke="#000" stroke-width="1.3"/>
<line x1="417.40" y1="832.60" x2="419.80" y2="832.60" stroke="#000" stroke-width="1.2"/>
<text x="443.00" y="1006.40" font-size="24" text-anchor="middle" >0.02</text>
<text x="503.50" y="1006.40" font-size="24" text-anchor="middle" >0.06</text>
<text x="560.10" y="1006.40" font-size="24" text-anchor="middle" >0.1</text>
<circle cx="429.38" cy="970.05" r="2.2" fill="#000"/>
<circle cx="438.75" cy="955.51" r="2.2" fill="#000"/>
<circle cx="430.61" cy="962.23" r="2.2" fill="#000"/>
<circle cx="429.30" cy="975.13" r="2.2" fill="#000"/>
<circle cx="437.22" cy="972.20" r="2.2" fill="#000"/>
<circle cx="439.88" cy="962.16" r="2.2" fill="#000"/>
<circle cx="433.00" cy="962.17" r="2.2" fill="#000"/>
<circle cx="439.54" cy="972.00" r="2.2" fill="#000"/>
<circle cx="427.44" cy="965.04" r="2.2" fill="#000"/>
<circle cx="429.19" cy="963.08" r="2.2" fill="#000"/>
<circle cx="441.31" cy="961.12" r="2.2" fill="#000"/>
<circle cx="434.70" cy="975.69" r="2.2" fill="#000"/>
<circle cx="427.46" cy="975.24" r="2.2" fill="#000"/>
<circle cx="433.37" cy="971.01" r="2.2" fill="#000"/>
<circle cx="441.24" cy="971.20" r="2.2" fill="#000"/>
<circle cx="427.76" cy="967.95" r="2.2" fill="#000"/>
<circle cx="440.46" cy="967.15" r="2.2" fill="#000"/>
<circle cx="432.84" cy="971.36" r="2.2" fill="#000"/>
<circle cx="432.22" cy="958.02" r="2.2" fill="#000"/>
<circle cx="439.61" cy="965.67" r="2.2" fill="#000"/>
<circle cx="432.28" cy="951.77" r="2.2" fill="#000"/>
<circle cx="429.72" cy="967.33" r="2.2" fill="#000"/>
<circle cx="433.09" cy="974.65" r="2.2" fill="#000"/>
<circle cx="438.25" cy="963.54" r="2.2" fill="#000"/>
<circle cx="429.36" cy="970.01" r="2.2" fill="#000"/>
<circle cx="440.70" cy="959.88" r="2.2" fill="#000"/>
<circle cx="437.01" cy="966.02" r="2.2" fill="#000"/>
<circle cx="431.92" cy="957.84" r="2.2" fill="#000"/>
<circle cx="430.91" cy="960.89" r="2.2" fill="#000"/>
<circle cx="432.89" cy="962.54" r="2.2" fill="#000"/>
<circle cx="431.57" cy="976.45" r="2.2" fill="#000"/>
<circle cx="436.95" cy="960.38" r="2.2" fill="#000"/>
<circle cx="432.34" cy="973.64" r="2.2" fill="#000"/>
<circle cx="427.83" cy="971.07" r="2.2" fill="#000"/>
<circle cx="435.63" cy="966.59" r="2.2" fill="#000"/>
<circle cx="425.19" cy="965.38" r="2.2" fill="#000"/>
<circle cx="448.43" cy="965.37" r="2.2" fill="#000"/>
<circle cx="430.72" cy="951.60" r="2.2" fill="#000"/>
<circle cx="435.07" cy="968.10" r="2.2" fill="#000"/>
<circle cx="430.46" cy="972.41" r="2.2" fill="#000"/>
<circle cx="429.68" cy="973.12" r="2.2" fill="#000"/>
<circle cx="428.98" cy="975.13" r="2.2" fill="#000"/>
<circle cx="437.13" cy="956.98" r="2.2" fill="#000"/>
<circle cx="436.34" cy="976.73" r="2.2" fill="#000"/>
<circle cx="438.94" cy="954.90" r="2.2" fill="#000"/>
<circle cx="433.39" cy="963.60" r="2.2" fill="#000"/>
<circle cx="427.03" cy="966.58" r="2.2" fill="#000"/>
<circle cx="440.73" cy="958.39" r="2.2" fill="#000"/>
<circle cx="438.41" cy="974.65" r="2.2" fill="#000"/>
<circle cx="427.84" cy="971.90" r="2.2" fill="#000"/>
<circle cx="437.21" cy="967.67" r="2.2" fill="#000"/>
<circle cx="428.85" cy="965.27" r="2.2" fill="#000"/>
<circle cx="445.28" cy="969.49" r="2.2" fill="#000"/>
<circle cx="440.80" cy="956.85" r="2.2" fill="#000"/>
<circle cx="442.55" cy="967.73" r="2.2" fill="#000"/>
<circle cx="438.07" cy="972.82" r="2.2" fill="#000"/>
<circle cx="448.51" cy="964.31" r="2.2" fill="#000"/>
<circle cx="440.15" cy="961.68" r="2.2" fill="#000"/>
<circle cx="434.73" cy="974.02" r="2.2" fill="#000"/>
<circle cx="435.88" cy="961.58" r="2.2" fill="#000"/>
<circle cx="439.88" cy="972.04" r="2.2" fill="#000"/>
<circle cx="443.16" cy="970.77" r="2.2" fill="#000"/>
<circle cx="438.32" cy="964.98" r="2.2" fill="#000"/>
<circle cx="434.98" cy="956.46" r="2.2" fill="#000"/>
<circle cx="430.16" cy="966.77" r="2.2" fill="#000"/>
<circle cx="430.11" cy="970.98" r="2.2" fill="#000"/>
<circle cx="430.98" cy="952.10" r="2.2" fill="#000"/>
<circle cx="444.71" cy="966.66" r="2.2" fill="#000"/>
<circle cx="434.93" cy="970.81" r="2.2" fill="#000"/>
<circle cx="428.50" cy="959.14" r="2.2" fill="#000"/>
<circle cx="432.94" cy="972.09" r="2.2" fill="#000"/>
<circle cx="446.01" cy="966.29" r="2.2" fill="#000"/>
<circle cx="447.95" cy="967.40" r="2.2" fill="#000"/>
<circle cx="446.96" cy="964.08" r="2.2" fill="#000"/>
<circle cx="439.45" cy="974.12" r="2.2" fill="#000"/>
<circle cx="441.79" cy="960.53" r="2.2" fill="#000"/>
<circle cx="432.18" cy="962.15" r="2.2" fill="#000"/>
<circle cx="430.36" cy="966.04" r="2.2" fill="#000"/>
<circle cx="434.27" cy="974.64" r="2.2" fill="#000"/>
<circle cx="440.91" cy="966.14" r="2.2" fill="#000"/>
<circle cx="438.93" cy="972.05" r="2.2" fill="#000"/>
<circle cx="445.33" cy="971.85" r="2.2" fill="#000"/>
<circle cx="439.57" cy="954.73" r="2.2" fill="#000"/>
<circle cx="428.77" cy="962.32" r="2.2" fill="#000"/>
<circle cx="434.33" cy="973.67" r="2.2" fill="#000"/>
<circle cx="445.77" cy="966.31" r="2.2" fill="#000"/>
<circle cx="445.39" cy="967.79" r="2.2" fill="#000"/>
<circle cx="434.31" cy="975.89" r="2.2" fill="#000"/>
<circle cx="440.66" cy="962.72" r="2.2" fill="#000"/>
<circle cx="447.92" cy="968.63" r="2.2" fill="#000"/>
<circle cx="427.43" cy="971.46" r="2.2" fill="#000"/>
<circle cx="425.55" cy="973.39" r="2.2" fill="#000"/>
<circle cx="439.93" cy="958.01" r="2.2" fill="#000"/>
<circle cx="443.39" cy="964.15" r="2.2" fill="#000"/>
<circle cx="441.25" cy="956.58" r="2.2" fill="#000"/>
<circle cx="438.60" cy="954.45" r="2.2" fill="#000"/>
<circle cx="438.48" cy="973.19" r="2.2" fill="#000"/>
<circle cx="444.94" cy="966.55" r="2.2" fill="#000"/>
<circle cx="441.75" cy="956.49" r="2.2" fill="#000"/>
<circle cx="431.10" cy="962.83" r="2.2" fill="#000"/>
<circle cx="435.69" cy="956.17" r="2.2" fill="#000"/>
<circle cx="429.56" cy="971.11" r="2.2" fill="#000"/>
<circle cx="436.44" cy="955.63" r="2.2" fill="#000"/>
<circle cx="427.86" cy="952.94" r="2.2" fill="#000"/>
<circle cx="430.17" cy="951.62" r="2.2" fill="#000"/>
<circle cx="432.27" cy="951.15" r="2.2" fill="#000"/>
<circle cx="433.05" cy="952.53" r="2.2" fill="#000"/>
<circle cx="437.45" cy="954.90" r="2.2" fill="#000"/>
<circle cx="439.70" cy="953.51" r="2.2" fill="#000"/>
<circle cx="440.37" cy="954.28" r="2.2" fill="#000"/>
<circle cx="442.58" cy="957.22" r="2.2" fill="#000"/>
<circle cx="442.70" cy="960.55" r="2.2" fill="#000"/>
<circle cx="446.62" cy="963.37" r="2.2" fill="#000"/>
<circle cx="447.91" cy="963.96" r="2.2" fill="#000"/>
<circle cx="451.59" cy="964.88" r="2.2" fill="#000"/>
<circle cx="453.08" cy="964.96" r="2.2" fill="#000"/>
<circle cx="452.38" cy="964.84" r="2.2" fill="#000"/>
<circle cx="451.19" cy="966.04" r="2.2" fill="#000"/>
<circle cx="448.40" cy="968.64" r="2.2" fill="#000"/>
<circle cx="448.00" cy="971.57" r="2.2" fill="#000"/>
<circle cx="448.17" cy="972.03" r="2.2" fill="#000"/>
<circle cx="445.89" cy="971.79" r="2.2" fill="#000"/>
<circle cx="441.26" cy="972.77" r="2.2" fill="#000"/>
<circle cx="440.05" cy="974.07" r="2.2" fill="#000"/>
<circle cx="434.76" cy="977.53" r="2.2" fill="#000"/>
<circle cx="431.62" cy="977.87" r="2.2" fill="#000"/>
<circle cx="429.23" cy="976.67" r="2.2" fill="#000"/>
<circle cx="424.70" cy="973.85" r="2.2" fill="#000"/>
<circle cx="425.41" cy="972.34" r="2.2" fill="#000"/>
<circle cx="423.81" cy="965.49" r="2.2" fill="#000"/>
<circle cx="422.12" cy="965.34" r="2.2" fill="#000"/>
<circle cx="424.63" cy="964.94" r="2.2" fill="#000"/>
<circle cx="427.63" cy="961.77" r="2.2" fill="#000"/>
<circle cx="429.15" cy="958.34" r="2.2" fill="#000"/>
<circle cx="431.98" cy="956.31" r="2.2" fill="#000"/>
<circle cx="429.46" cy="952.06" r="2.2" fill="#000"/>
<circle cx="427.88" cy="952.12" r="2.2" fill="#000"/>
<circle cx="592.50" cy="927.50" r="2.2" fill="#000"/>
<circle cx="423.00" cy="846.90" r="2.2" fill="#000"/>
<circle cx="440.70" cy="851.60" r="2.2" fill="#000"/>
<circle cx="430.25" cy="907.35" r="2.2" fill="#000"/>
<circle cx="442.37" cy="911.26" r="2.2" fill="#000"/>
<circle cx="470.14" cy="908.52" r="2.2" fill="#000"/>
<circle cx="443.94" cy="930.42" r="2.2" fill="#000"/>
<circle cx="429.70" cy="933.55" r="2.2" fill="#000"/>
<circle cx="435.33" cy="938.24" r="2.2" fill="#000"/>
<circle cx="439.87" cy="937.22" r="2.2" fill="#000"/>
<circle cx="459.58" cy="940.04" r="2.2" fill="#000"/>
<circle cx="465.45" cy="940.59" r="2.2" fill="#000"/>
<circle cx="435.18" cy="944.50" r="2.2" fill="#000"/>
<circle cx="447.30" cy="945.51" r="2.2" fill="#000"/>
<circle cx="465.45" cy="952.32" r="2.2" fill="#000"/>
<circle cx="478.74" cy="957.56" r="2.2" fill="#000"/>
<circle cx="448.47" cy="955.68" r="2.2" fill="#000"/>
<circle cx="461.14" cy="965.85" r="2.2" fill="#000"/>
<circle cx="453.71" cy="964.83" r="2.2" fill="#000"/>
<circle cx="426.73" cy="952.32" r="2.2" fill="#000"/>
<circle cx="429.08" cy="950.75" r="2.2" fill="#000"/>
<circle cx="432.99" cy="950.36" r="2.2" fill="#000"/>
<circle cx="439.64" cy="952.71" r="2.2" fill="#000"/>
<circle cx="422.04" cy="965.61" r="2.2" fill="#000"/>
<g transform="translate(537.90 861.10) rotate(45)">
<path d="M-127.30,-0.30 L126,-0.30" stroke="#000" stroke-width="1.7" fill="none"/>
<path d="M-126.50,0.50 L-126.50,-112.3" stroke="#000" stroke-width="1.7" fill="none"/>
<path d="M-126.50,-22.45 L-124.50,-22.45" stroke="#000" stroke-width="1.1"/>
<path d="M-126.50,-44.90 L-124.50,-44.90" stroke="#000" stroke-width="1.1"/>
<path d="M-126.50,-67.35 L-124.50,-67.35" stroke="#000" stroke-width="1.1"/>
<path d="M-126.50,-89.80 L-124.50,-89.80" stroke="#000" stroke-width="1.1"/>
<path d="M-73.50,-0.30 L-73.50,-2.30" stroke="#000" stroke-width="1.1"/>
<path d="M73.50,-0.30 L73.50,-2.30" stroke="#000" stroke-width="1.1"/>
<path d="M-95.40,0 L-95.40,-2.20 L-91.00,-2.20 L-91.00,0 Z M-77.60,0 L-77.60,-2.20 L-73.20,-2.20 L-73.20,0 Z M-46.40,0 L-46.40,-2.20 L-42.00,-2.20 L-42.00,0 Z M-34.20,0 L-34.20,-3.00 L-29.80,-3.00 L-29.80,-3.30 L-25.40,-3.30 L-25.40,-3.60 L-21.30,-3.60 L-21.30,-5.80 L-16.60,-5.80 L-16.60,-12.20 L-12.10,-12.20 L-12.10,-15.50 L-7.50,-15.50 L-7.50,-35.60 L-2.70,-35.60 L-2.70,-91.50 L1.90,-91.50 L1.90,-96.00 L7.20,-96.00 L7.20,-44.80 L11.80,-44.80 L11.80,-26.50 L16.20,-26.50 L16.20,-4.40 L29.40,-4.40 L29.40,0 Z M82.20,0 L82.20,-2.20 L86.60,-2.20 L86.60,0 Z " fill="#000"/>
<path d="M0,168.5 L0,-112.6" stroke="#000" stroke-width="1.6" fill="none"/>
</g>
<text x="0" y="0" font-size="24" text-anchor="middle" dominant-baseline="central" transform="translate(468.92 726.69) rotate(45)">20</text>
<text x="0" y="0" font-size="24" text-anchor="middle" dominant-baseline="central" transform="translate(499.25 697.06) rotate(45)">40</text>
<path d="M684.90,803.10 L684.90,981.20 L862.10,981.20" fill="none" stroke="#000" stroke-width="2.2"/>
<line x1="712.70" y1="981.20" x2="712.70" y2="978.60" stroke="#000" stroke-width="1.3"/>
<line x1="685.10" y1="951.00" x2="687.50" y2="951.00" stroke="#000" stroke-width="1.2"/>
<line x1="742.30" y1="981.20" x2="742.30" y2="978.60" stroke="#000" stroke-width="1.3"/>
<line x1="685.10" y1="921.40" x2="687.50" y2="921.40" stroke="#000" stroke-width="1.2"/>
<line x1="771.90" y1="981.20" x2="771.90" y2="978.60" stroke="#000" stroke-width="1.3"/>
<line x1="685.10" y1="891.80" x2="687.50" y2="891.80" stroke="#000" stroke-width="1.2"/>
<line x1="801.50" y1="981.20" x2="801.50" y2="978.60" stroke="#000" stroke-width="1.3"/>
<line x1="685.10" y1="862.20" x2="687.50" y2="862.20" stroke="#000" stroke-width="1.2"/>
<line x1="831.10" y1="981.20" x2="831.10" y2="978.60" stroke="#000" stroke-width="1.3"/>
<line x1="685.10" y1="832.60" x2="687.50" y2="832.60" stroke="#000" stroke-width="1.2"/>
<text x="714.50" y="1006.40" font-size="24" text-anchor="middle" >0.02</text>
<text x="775.00" y="1006.40" font-size="24" text-anchor="middle" >0.06</text>
<text x="831.60" y="1006.40" font-size="24" text-anchor="middle" >0.1</text>
<circle cx="701.85" cy="961.70" r="2.2" fill="#000"/>
<circle cx="703.56" cy="960.61" r="2.2" fill="#000"/>
<circle cx="703.33" cy="967.40" r="2.2" fill="#000"/>
<circle cx="698.69" cy="966.67" r="2.2" fill="#000"/>
<circle cx="713.63" cy="956.21" r="2.2" fill="#000"/>
<circle cx="698.67" cy="971.59" r="2.2" fill="#000"/>
<circle cx="701.43" cy="959.85" r="2.2" fill="#000"/>
<circle cx="700.09" cy="961.07" r="2.2" fill="#000"/>
<circle cx="709.61" cy="962.30" r="2.2" fill="#000"/>
<circle cx="702.09" cy="963.59" r="2.2" fill="#000"/>
<circle cx="711.04" cy="959.11" r="2.2" fill="#000"/>
<circle cx="700.55" cy="962.68" r="2.2" fill="#000"/>
<circle cx="710.92" cy="972.52" r="2.2" fill="#000"/>
<circle cx="706.91" cy="975.81" r="2.2" fill="#000"/>
<circle cx="705.03" cy="969.73" r="2.2" fill="#000"/>
<circle cx="704.09" cy="973.28" r="2.2" fill="#000"/>
<circle cx="717.24" cy="952.95" r="2.2" fill="#000"/>
<circle cx="706.09" cy="963.43" r="2.2" fill="#000"/>
<circle cx="705.27" cy="965.20" r="2.2" fill="#000"/>
<circle cx="706.20" cy="962.01" r="2.2" fill="#000"/>
<circle cx="700.36" cy="961.11" r="2.2" fill="#000"/>
<circle cx="695.99" cy="969.11" r="2.2" fill="#000"/>
<circle cx="703.11" cy="958.82" r="2.2" fill="#000"/>
<circle cx="712.86" cy="966.54" r="2.2" fill="#000"/>
<circle cx="697.57" cy="962.44" r="2.2" fill="#000"/>
<circle cx="711.14" cy="966.78" r="2.2" fill="#000"/>
<circle cx="706.55" cy="966.03" r="2.2" fill="#000"/>
<circle cx="697.45" cy="964.92" r="2.2" fill="#000"/>
<circle cx="701.48" cy="969.22" r="2.2" fill="#000"/>
<circle cx="696.44" cy="965.96" r="2.2" fill="#000"/>
<circle cx="695.35" cy="968.10" r="2.2" fill="#000"/>
<circle cx="703.58" cy="970.46" r="2.2" fill="#000"/>
<circle cx="703.38" cy="971.45" r="2.2" fill="#000"/>
<circle cx="701.46" cy="967.21" r="2.2" fill="#000"/>
<circle cx="717.97" cy="952.51" r="2.2" fill="#000"/>
<circle cx="708.66" cy="966.00" r="2.2" fill="#000"/>
<circle cx="700.38" cy="966.00" r="2.2" fill="#000"/>
<circle cx="699.43" cy="965.86" r="2.2" fill="#000"/>
<circle cx="704.40" cy="969.56" r="2.2" fill="#000"/>
<circle cx="718.26" cy="954.63" r="2.2" fill="#000"/>
<circle cx="700.17" cy="967.16" r="2.2" fill="#000"/>
<circle cx="716.46" cy="953.26" r="2.2" fill="#000"/>
<circle cx="703.59" cy="955.59" r="2.2" fill="#000"/>
<circle cx="696.95" cy="969.76" r="2.2" fill="#000"/>
<circle cx="693.74" cy="970.04" r="2.2" fill="#000"/>
<circle cx="710.59" cy="970.81" r="2.2" fill="#000"/>
<circle cx="701.09" cy="971.40" r="2.2" fill="#000"/>
<circle cx="701.04" cy="961.03" r="2.2" fill="#000"/>
<circle cx="703.25" cy="959.43" r="2.2" fill="#000"/>
<circle cx="708.88" cy="963.25" r="2.2" fill="#000"/>
<circle cx="694.74" cy="973.13" r="2.2" fill="#000"/>
<circle cx="700.41" cy="959.78" r="2.2" fill="#000"/>
<circle cx="710.20" cy="969.39" r="2.2" fill="#000"/>
<circle cx="697.02" cy="966.41" r="2.2" fill="#000"/>
<circle cx="709.45" cy="965.44" r="2.2" fill="#000"/>
<circle cx="694.91" cy="965.13" r="2.2" fill="#000"/>
<circle cx="718.26" cy="952.71" r="2.2" fill="#000"/>
<circle cx="699.15" cy="961.05" r="2.2" fill="#000"/>
<circle cx="698.63" cy="972.87" r="2.2" fill="#000"/>
<circle cx="706.77" cy="969.79" r="2.2" fill="#000"/>
<circle cx="701.59" cy="967.67" r="2.2" fill="#000"/>
<circle cx="701.12" cy="960.04" r="2.2" fill="#000"/>
<circle cx="707.75" cy="969.97" r="2.2" fill="#000"/>
<circle cx="707.95" cy="975.03" r="2.2" fill="#000"/>
<circle cx="697.43" cy="969.82" r="2.2" fill="#000"/>
<circle cx="709.12" cy="963.30" r="2.2" fill="#000"/>
<circle cx="712.27" cy="966.37" r="2.2" fill="#000"/>
<circle cx="708.97" cy="963.70" r="2.2" fill="#000"/>
<circle cx="712.81" cy="957.40" r="2.2" fill="#000"/>
<circle cx="696.74" cy="963.90" r="2.2" fill="#000"/>
<circle cx="709.07" cy="963.97" r="2.2" fill="#000"/>
<circle cx="701.18" cy="973.36" r="2.2" fill="#000"/>
<circle cx="698.18" cy="962.63" r="2.2" fill="#000"/>
<circle cx="700.45" cy="962.71" r="2.2" fill="#000"/>
<circle cx="712.90" cy="954.28" r="2.2" fill="#000"/>
<circle cx="709.59" cy="967.91" r="2.2" fill="#000"/>
<circle cx="699.93" cy="963.16" r="2.2" fill="#000"/>
<circle cx="711.33" cy="967.12" r="2.2" fill="#000"/>
<circle cx="701.29" cy="965.88" r="2.2" fill="#000"/>
<circle cx="694.58" cy="968.25" r="2.2" fill="#000"/>
<circle cx="702.19" cy="963.21" r="2.2" fill="#000"/>
<circle cx="716.30" cy="955.74" r="2.2" fill="#000"/>
<circle cx="696.52" cy="971.94" r="2.2" fill="#000"/>
<circle cx="710.78" cy="966.83" r="2.2" fill="#000"/>
<circle cx="712.64" cy="956.16" r="2.2" fill="#000"/>
<circle cx="699.47" cy="973.08" r="2.2" fill="#000"/>
<circle cx="702.08" cy="962.30" r="2.2" fill="#000"/>
<circle cx="710.07" cy="971.34" r="2.2" fill="#000"/>
<circle cx="702.44" cy="954.88" r="2.2" fill="#000"/>
<circle cx="706.18" cy="970.55" r="2.2" fill="#000"/>
<circle cx="699.64" cy="970.67" r="2.2" fill="#000"/>
<circle cx="702.67" cy="968.90" r="2.2" fill="#000"/>
<circle cx="701.04" cy="953.55" r="2.2" fill="#000"/>
<circle cx="701.66" cy="953.65" r="2.2" fill="#000"/>
<circle cx="704.44" cy="954.89" r="2.2" fill="#000"/>
<circle cx="703.77" cy="954.72" r="2.2" fill="#000"/>
<circle cx="705.71" cy="959.21" r="2.2" fill="#000"/>
<circle cx="710.08" cy="959.22" r="2.2" fill="#000"/>
<circle cx="711.24" cy="955.96" r="2.2" fill="#000"/>
<circle cx="713.32" cy="953.15" r="2.2" fill="#000"/>
<circle cx="717.21" cy="950.72" r="2.2" fill="#000"/>
<circle cx="719.91" cy="949.01" r="2.2" fill="#000"/>
<circle cx="719.25" cy="948.04" r="2.2" fill="#000"/>
<circle cx="719.48" cy="948.14" r="2.2" fill="#000"/>
<circle cx="718.82" cy="952.54" r="2.2" fill="#000"/>
<circle cx="719.03" cy="953.54" r="2.2" fill="#000"/>
<circle cx="718.15" cy="957.61" r="2.2" fill="#000"/>
<circle cx="718.69" cy="959.30" r="2.2" fill="#000"/>
<circle cx="719.37" cy="959.05" r="2.2" fill="#000"/>
<circle cx="717.81" cy="957.47" r="2.2" fill="#000"/>
<circle cx="712.70" cy="957.78" r="2.2" fill="#000"/>
<circle cx="710.76" cy="961.19" r="2.2" fill="#000"/>
<circle cx="712.40" cy="965.06" r="2.2" fill="#000"/>
<circle cx="713.84" cy="967.14" r="2.2" fill="#000"/>
<circle cx="714.42" cy="967.90" r="2.2" fill="#000"/>
<circle cx="713.72" cy="968.92" r="2.2" fill="#000"/>
<circle cx="711.06" cy="972.60" r="2.2" fill="#000"/>
<circle cx="710.89" cy="973.93" r="2.2" fill="#000"/>
<circle cx="708.16" cy="975.78" r="2.2" fill="#000"/>
<circle cx="706.62" cy="975.96" r="2.2" fill="#000"/>
<circle cx="703.45" cy="974.89" r="2.2" fill="#000"/>
<circle cx="698.48" cy="973.94" r="2.2" fill="#000"/>
<circle cx="695.19" cy="976.27" r="2.2" fill="#000"/>
<circle cx="694.62" cy="974.64" r="2.2" fill="#000"/>
<circle cx="693.03" cy="971.15" r="2.2" fill="#000"/>
<circle cx="692.75" cy="969.94" r="2.2" fill="#000"/>
<circle cx="693.59" cy="966.53" r="2.2" fill="#000"/>
<circle cx="693.83" cy="964.48" r="2.2" fill="#000"/>
<circle cx="693.69" cy="963.77" r="2.2" fill="#000"/>
<circle cx="696.22" cy="962.73" r="2.2" fill="#000"/>
<circle cx="699.79" cy="959.68" r="2.2" fill="#000"/>
<circle cx="786.20" cy="962.00" r="2.2" fill="#000"/>
<circle cx="701.80" cy="826.10" r="2.2" fill="#000"/>
<circle cx="731.30" cy="826.80" r="2.2" fill="#000"/>
<circle cx="706.50" cy="899.00" r="2.2" fill="#000"/>
<circle cx="720.10" cy="899.00" r="2.2" fill="#000"/>
<circle cx="718.30" cy="931.36" r="2.2" fill="#000"/>
<circle cx="718.75" cy="934.49" r="2.2" fill="#000"/>
<circle cx="716.96" cy="938.78" r="2.2" fill="#000"/>
<circle cx="700.43" cy="934.94" r="2.2" fill="#000"/>
<circle cx="699.09" cy="936.72" r="2.2" fill="#000"/>
<circle cx="703.11" cy="937.17" r="2.2" fill="#000"/>
<circle cx="707.13" cy="940.30" r="2.2" fill="#000"/>
<circle cx="710.70" cy="940.75" r="2.2" fill="#000"/>
<circle cx="698.64" cy="943.43" r="2.2" fill="#000"/>
<circle cx="714.72" cy="943.87" r="2.2" fill="#000"/>
<circle cx="706.68" cy="946.11" r="2.2" fill="#000"/>
<circle cx="737.07" cy="931.81" r="2.2" fill="#000"/>
<circle cx="737.07" cy="935.38" r="2.2" fill="#000"/>
<circle cx="731.70" cy="948.61" r="2.2" fill="#000"/>
<circle cx="720.09" cy="947.45" r="2.2" fill="#000"/>
<circle cx="748.06" cy="954.87" r="2.2" fill="#000"/>
<circle cx="708.02" cy="949.68" r="2.2" fill="#000"/>
<circle cx="724.55" cy="957.28" r="2.2" fill="#000"/>
<circle cx="725.90" cy="959.96" r="2.2" fill="#000"/>
<circle cx="731.70" cy="961.75" r="2.2" fill="#000"/>
<circle cx="733.04" cy="960.85" r="2.2" fill="#000"/>
<circle cx="720.98" cy="967.56" r="2.2" fill="#000"/>
<circle cx="727.24" cy="967.56" r="2.2" fill="#000"/>
<circle cx="734.39" cy="968.63" r="2.2" fill="#000"/>
<circle cx="719.64" cy="953.70" r="2.2" fill="#000"/>
<circle cx="718.75" cy="959.07" r="2.2" fill="#000"/>
<circle cx="714.72" cy="967.56" r="2.2" fill="#000"/>
<circle cx="711.60" cy="974.26" r="2.2" fill="#000"/>
<circle cx="705.79" cy="976.49" r="2.2" fill="#000"/>
<circle cx="695.51" cy="976.94" r="2.2" fill="#000"/>
<g transform="translate(805.60 861.10) rotate(45)">
<path d="M-127.30,-0.30 L126,-0.30" stroke="#000" stroke-width="1.7" fill="none"/>
<path d="M-126.50,0.50 L-126.50,-112.3" stroke="#000" stroke-width="1.7" fill="none"/>
<path d="M-126.50,-22.45 L-124.50,-22.45" stroke="#000" stroke-width="1.1"/>
<path d="M-126.50,-44.90 L-124.50,-44.90" stroke="#000" stroke-width="1.1"/>
<path d="M-126.50,-67.35 L-124.50,-67.35" stroke="#000" stroke-width="1.1"/>
<path d="M-126.50,-89.80 L-124.50,-89.80" stroke="#000" stroke-width="1.1"/>
<path d="M-73.50,-0.30 L-73.50,-2.30" stroke="#000" stroke-width="1.1"/>
<path d="M73.50,-0.30 L73.50,-2.30" stroke="#000" stroke-width="1.1"/>
<path d="M-100.20,0 L-100.20,-2.20 L-95.80,-2.20 L-95.80,0 Z M-77.40,0 L-77.40,-2.20 L-73.00,-2.20 L-73.00,0 Z M-46.50,0 L-46.50,-2.20 L-42.10,-2.20 L-42.10,0 Z M-37.60,0 L-37.60,-2.20 L-33.20,-2.20 L-33.20,0 Z M-25.50,0 L-25.50,-6.00 L-12.20,-6.00 L-12.20,-17.50 L-7.50,-17.50 L-7.50,-40.20 L-2.70,-40.20 L-2.70,-102.40 L2.70,-102.40 L2.70,-94.30 L7.40,-94.30 L7.40,-33.50 L11.65,-33.50 L11.65,-20.00 L15.60,-20.00 L15.60,-8.50 L20.80,-8.50 L20.80,-4.50 L29.90,-4.50 L29.90,0 Z M55.20,0 L55.20,-2.20 L59.60,-2.20 L59.60,0 Z " fill="#000"/>
<path d="M0,168.5 L0,-112.6" stroke="#000" stroke-width="1.6" fill="none"/>
</g>
<text x="0" y="0" font-size="24" text-anchor="middle" dominant-baseline="central" transform="translate(736.62 726.69) rotate(45)">20</text>
<text x="0" y="0" font-size="24" text-anchor="middle" dominant-baseline="central" transform="translate(766.95 697.06) rotate(45)">40</text>
</svg></body></html>
